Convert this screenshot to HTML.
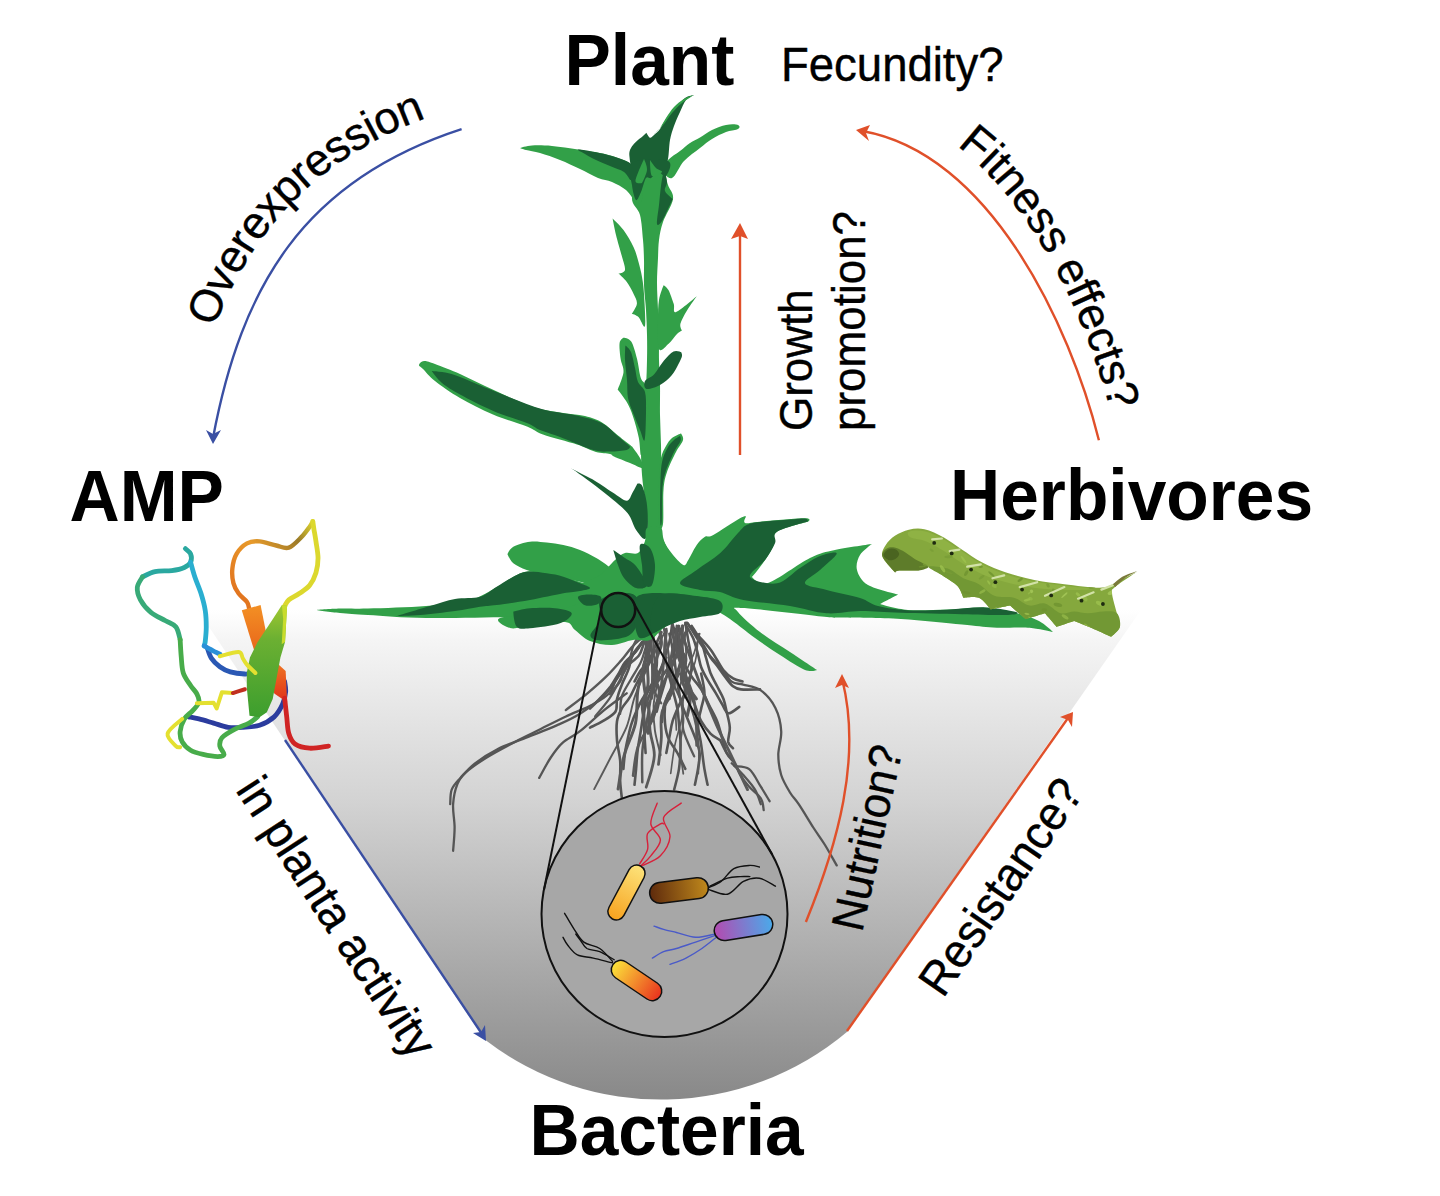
<!DOCTYPE html>
<html><head><meta charset="utf-8"><title>AMP Plant Bacteria Herbivores</title>
<style>
html,body{margin:0;padding:0;background:#fff;width:1440px;height:1196px;overflow:hidden}
svg{display:block;font-family:"Liberation Sans",sans-serif}
.b{font-weight:bold;font-size:69.5px;fill:#000}
.r{font-size:45.5px;fill:#000;stroke:#000;stroke-width:0.4px}
</style></head>
<body>
<svg width="1440" height="1196" viewBox="0 0 1440 1196">
<defs>
<linearGradient id="bowl" x1="0" y1="610" x2="0" y2="1098" gradientUnits="userSpaceOnUse">
<stop offset="0" stop-color="#ffffff"/>
<stop offset="0.0615" stop-color="#f5f5f5"/>
<stop offset="0.184" stop-color="#e8e8e8"/>
<stop offset="0.389" stop-color="#d3d3d3"/>
<stop offset="0.594" stop-color="#bababa"/>
<stop offset="0.799" stop-color="#a1a1a1"/>
<stop offset="1" stop-color="#898989"/>
</linearGradient>
<marker id="ab" viewBox="0 0 16 16" refX="8" refY="14" markerWidth="16" markerHeight="16" markerUnits="userSpaceOnUse" orient="auto-start-reverse"><path d="M0 0 L8 14 L16 0 L8 4 Z" fill="#3a4fa3"/></marker>
<path id="ovp" d="M 155.5 585.7 L 164.6 536.5 L 173.6 487.4 L 182.7 438.2 L 184.0 432.2 L 185.2 426.2 L 186.5 420.2 L 187.8 414.3 L 189.2 408.5 L 190.6 402.7 L 192.1 396.9 L 193.6 391.1 L 195.1 385.4 L 196.6 379.8 L 198.3 374.2 L 199.9 368.6 L 201.6 363.1 L 203.3 357.6 L 205.1 352.2 L 207.0 346.8 L 208.8 341.5 L 210.8 336.2 L 212.8 330.9 L 214.8 325.7 L 216.9 320.5 L 219.0 315.4 L 221.2 310.3 L 223.4 305.3 L 225.7 300.3 L 228.1 295.4 L 230.5 290.5 L 232.9 285.6 L 235.5 280.8 L 238.0 276.1 L 240.7 271.4 L 243.4 266.7 L 246.2 262.1 L 249.0 257.6 L 251.9 253.1 L 254.8 248.6 L 257.9 244.2 L 260.9 239.8 L 264.1 235.5 L 267.3 231.3 L 270.6 227.1 L 273.9 222.9 L 277.4 218.9 L 280.9 214.8 L 284.4 210.8 L 288.0 206.9 L 291.7 203.0 L 295.5 199.2 L 299.3 195.5 L 303.3 191.8 L 307.2 188.1 L 311.3 184.5 L 315.4 181.0 L 319.6 177.5 L 323.9 174.1 L 328.2 170.8 L 332.6 167.5 L 337.1 164.3 L 341.7 161.1 L 346.3 158.0 L 351.1 154.9 L 355.8 151.9 L 360.7 149.0 L 365.7 146.1 L 370.7 143.3 L 375.8 140.5 L 380.9 137.8 L 386.2 135.2 L 391.5 132.6 L 396.9 130.1 L 402.4 127.6 L 408.0 125.2 L 413.6 122.9 L 419.3 120.6 L 425.2 118.4 L 431.0 116.2 L 437.0 114.1 L 443.1 112.0 L 449.2 110.0 L 457.4 107.5 L 483.8 99.4 L 510.2 91.3 L 531.3 84.8"/>
<path id="fitp" d="M 861.7 100.5 L 867.5 101.8 L 873.2 103.2 L 878.8 104.7 L 884.4 106.4 L 889.9 108.2 L 895.3 110.2 L 900.6 112.3 L 905.9 114.6 L 911.1 117.0 L 916.2 119.5 L 921.3 122.1 L 926.2 124.9 L 931.1 127.8 L 935.9 130.7 L 940.7 133.8 L 945.3 137.0 L 949.9 140.3 L 954.4 143.7 L 958.9 147.2 L 963.3 150.8 L 967.6 154.4 L 971.8 158.2 L 975.9 162.0 L 980.0 165.9 L 984.1 169.9 L 988.0 174.0 L 991.9 178.1 L 995.7 182.3 L 999.5 186.6 L 1003.2 190.9 L 1006.8 195.3 L 1010.4 199.7 L 1013.9 204.2 L 1017.3 208.8 L 1020.7 213.4 L 1024.0 218.0 L 1027.3 222.7 L 1030.5 227.5 L 1033.7 232.3 L 1036.8 237.1 L 1039.8 241.9 L 1042.8 246.8 L 1045.7 251.8 L 1048.6 256.7 L 1051.4 261.7 L 1054.1 266.7 L 1056.8 271.7 L 1059.5 276.8 L 1062.0 281.9 L 1064.6 287.0 L 1067.1 292.1 L 1069.5 297.2 L 1071.9 302.3 L 1074.2 307.4 L 1076.4 312.6 L 1078.7 317.7 L 1080.8 322.9 L 1082.9 328.0 L 1085.0 333.2 L 1087.0 338.3 L 1089.0 343.4 L 1090.9 348.5 L 1092.7 353.6 L 1094.5 358.7 L 1096.3 363.8 L 1098.0 368.8 L 1099.6 373.9 L 1101.2 378.9 L 1102.8 383.9 L 1104.3 388.8 L 1105.7 393.7 L 1107.1 398.6 L 1108.4 403.5 L 1109.7 408.3 L 1111.0 413.1 L 1112.2 417.8 L 1113.3 422.5 L 1114.4 427.1 L 1115.5 431.7 L 1116.9 438.5 L 1122.8 465.5 L 1128.6 492.5 L 1133.2 514.0"/>
</defs>
<!-- bowl -->
<path d="M 191 600 L 1148 600 L 847.2 1031.7 A 289 289 0 0 1 484.7 1039.5 Z" fill="url(#bowl)"/>

<!-- ROOTS -->
<g id="roots"><path d="M 644.2 640.8 C 641.7 643.7 634.0 652.5 629.6 658.3 C 625.2 664.2 621.3 670.0 617.9 675.8 C 614.5 681.7 613.5 688.5 609.2 693.3 C 604.8 698.2 599.0 701.1 591.7 705.0 C 584.4 708.9 574.7 712.3 565.4 716.7 C 556.2 721.0 545.0 726.9 536.2 731.2 C 527.5 735.6 521.2 738.5 512.9 742.9 C 504.7 747.3 494.4 752.6 486.7 757.5 C 478.9 762.4 471.1 767.7 466.2 772.1 C 461.4 776.5 459.7 778.4 457.5 783.7 C 455.3 789.1 453.6 796.9 453.1 804.2 C 452.6 811.5 454.6 819.7 454.6 827.5 C 454.6 835.3 453.4 846.9 453.1 850.8" fill="none" stroke="#555" stroke-width="2.3" stroke-linecap="round" stroke-linejoin="round"/>
<path d="M 641.2 643.7 C 638.8 647.2 631.0 657.8 626.7 664.2 C 622.3 670.5 618.9 676.3 615.0 681.7 C 611.1 687.0 609.2 690.9 603.3 696.2 C 597.5 701.6 587.8 708.9 580.0 713.7 C 572.2 718.6 565.4 721.5 556.7 725.4 C 547.9 729.3 537.2 733.2 527.5 737.1 C 517.8 741.0 507.1 744.4 498.3 748.7 C 489.6 753.1 481.3 758.5 475.0 763.3 C 468.7 768.2 464.3 773.5 460.4 777.9 C 456.5 782.3 453.4 785.2 451.7 789.6 C 450.0 794.0 450.5 801.7 450.2 804.2" fill="none" stroke="#555" stroke-width="2.3" stroke-linecap="round" stroke-linejoin="round"/>
<path d="M 626.7 693.3 C 622.8 696.2 611.1 704.5 603.3 710.8 C 595.6 717.2 586.8 725.9 580.0 731.2 C 573.2 736.6 567.4 738.5 562.5 742.9 C 557.6 747.3 554.7 751.7 550.8 757.5 C 546.9 763.3 541.1 774.5 539.2 777.9" fill="none" stroke="#555" stroke-width="2.3" stroke-linecap="round" stroke-linejoin="round"/>
<path d="M 687.9 623.3 C 690.3 627.2 697.2 639.4 702.5 646.7 C 707.8 654.0 715.1 661.2 720.0 667.1 C 724.9 672.9 727.8 678.7 731.7 681.7 C 735.6 684.6 738.5 683.1 743.3 684.6 C 748.2 686.0 755.5 686.5 760.8 690.4 C 766.2 694.3 772.0 701.1 775.4 707.9 C 778.8 714.7 780.8 723.5 781.2 731.2 C 781.7 739.0 778.3 747.3 778.3 754.6 C 778.3 761.9 779.3 768.7 781.2 775.0 C 783.2 781.3 787.1 787.6 790.0 792.5 C 792.9 797.4 794.9 798.3 798.7 804.2 C 802.6 810.0 809.0 820.7 813.3 827.5 C 817.7 834.3 821.1 838.7 825.0 845.0 C 828.9 851.3 834.7 862.0 836.7 865.4" fill="none" stroke="#555" stroke-width="2.3" stroke-linecap="round" stroke-linejoin="round"/>
<path d="M 731.7 763.3 C 733.6 765.3 739.4 770.6 743.3 775.0 C 747.2 779.4 752.1 784.7 755.0 789.6 C 757.9 794.4 759.9 801.7 760.8 804.2" fill="none" stroke="#555" stroke-width="2.3" stroke-linecap="round" stroke-linejoin="round"/>
<path d="M 734.6 766.2 C 737.0 766.7 744.8 765.8 749.2 769.2 C 753.5 772.6 757.4 781.3 760.8 786.7 C 764.2 792.0 768.1 798.8 769.6 801.2" fill="none" stroke="#555" stroke-width="2.3" stroke-linecap="round" stroke-linejoin="round"/>
<path d="M 720.0 740.0 C 721.0 741.9 723.4 747.8 725.8 751.7 C 728.3 755.6 732.2 759.4 734.6 763.3 C 737.0 767.2 738.0 771.1 740.4 775.0 C 742.8 778.9 745.8 782.8 749.2 786.7 C 752.6 790.6 758.4 794.4 760.8 798.3 C 763.3 802.2 763.3 808.1 763.7 810.0" fill="none" stroke="#555" stroke-width="2.3" stroke-linecap="round" stroke-linejoin="round"/>
<path d="M 672.6 621.1 C 672.1 624.6 670.8 635.7 669.4 641.8 C 668.1 647.9 666.5 651.8 664.7 657.7 C 662.8 663.5 660.7 670.9 658.3 676.7 C 655.9 682.6 652.8 686.8 650.4 692.6 C 648.0 698.4 645.6 705.3 644.0 711.7 C 642.4 718.0 641.9 724.4 640.8 730.7 C 639.8 737.1 638.5 743.5 637.7 749.8 C 636.9 756.2 636.6 763.1 636.1 768.9 C 635.5 774.7 634.8 782.1 634.5 784.8" fill="none" stroke="#555" stroke-width="2.6" stroke-linecap="round" stroke-linejoin="round"/>
<path d="M 685.3 622.7 C 685.9 625.9 687.4 635.4 688.5 641.8 C 689.6 648.1 691.4 654.8 691.7 660.8 C 691.9 666.9 691.2 673.0 690.1 678.3 C 689.0 683.6 687.2 688.1 685.3 692.6 C 683.5 697.1 681.1 700.6 679.0 705.3 C 676.9 710.1 674.2 715.9 672.6 721.2 C 671.0 726.5 670.5 731.8 669.4 737.1 C 668.4 742.4 666.8 750.3 666.3 753.0" fill="none" stroke="#555" stroke-width="2.6" stroke-linecap="round" stroke-linejoin="round"/>
<path d="M 686.9 622.7 C 689.3 625.9 697.2 636.0 701.2 641.8 C 705.2 647.6 708.1 653.7 710.7 657.7 C 713.4 661.6 714.7 662.4 717.1 665.6 C 719.5 668.8 722.4 673.3 725.0 676.7 C 727.7 680.2 730.3 684.1 733.0 686.3 C 735.6 688.4 736.4 688.9 740.9 689.4 C 745.4 690.0 756.8 689.4 760.0 689.4" fill="none" stroke="#555" stroke-width="2.6" stroke-linecap="round" stroke-linejoin="round"/>
<path d="M 679.0 625.9 C 678.2 629.9 674.7 642.3 674.2 649.7 C 673.7 657.1 675.0 663.2 675.8 670.4 C 676.6 677.5 677.9 686.8 679.0 692.6 C 680.0 698.4 680.6 700.6 682.2 705.3 C 683.7 710.1 686.4 715.9 688.5 721.2 C 690.6 726.5 693.0 731.8 694.9 737.1 C 696.7 742.4 699.1 747.7 699.6 753.0 C 700.2 758.3 698.8 763.6 698.0 768.9 C 697.2 774.2 695.4 782.1 694.9 784.8" fill="none" stroke="#555" stroke-width="2.6" stroke-linecap="round" stroke-linejoin="round"/>
<path d="M 661.5 632.2 C 660.2 635.2 655.9 644.2 653.6 649.7 C 651.2 655.3 649.8 660.3 647.2 665.6 C 644.5 670.9 640.6 676.2 637.7 681.5 C 634.8 686.8 632.4 692.9 629.7 697.4 C 627.1 701.9 623.9 704.5 621.8 708.5 C 619.7 712.5 617.8 715.9 617.0 721.2 C 616.2 726.5 616.5 733.7 617.0 740.3 C 617.5 746.9 619.7 754.1 620.2 760.9 C 620.7 767.8 619.9 775.5 620.2 781.6 C 620.5 787.7 621.5 794.8 621.8 797.5" fill="none" stroke="#555" stroke-width="2.6" stroke-linecap="round" stroke-linejoin="round"/>
<path d="M 642.4 641.8 C 641.4 643.4 639.0 647.9 636.1 651.3 C 633.2 654.8 627.9 658.7 625.0 662.4 C 622.0 666.1 621.0 669.6 618.6 673.6 C 616.2 677.5 613.8 682.0 610.7 686.3 C 607.5 690.5 603.0 695.3 599.5 699.0 C 596.1 702.7 591.6 706.9 590.0 708.5" fill="none" stroke="#555" stroke-width="2.6" stroke-linecap="round" stroke-linejoin="round"/>
<path d="M 642.4 641.8 C 640.8 643.9 635.3 649.7 632.9 654.5 C 630.5 659.3 630.0 665.3 628.1 670.4 C 626.3 675.4 623.6 679.9 621.8 684.7 C 619.9 689.4 618.1 694.5 617.0 699.0 C 616.0 703.5 617.8 708.0 615.4 711.7 C 613.0 715.4 606.9 718.6 602.7 721.2 C 598.5 723.9 592.1 726.5 590.0 727.6" fill="none" stroke="#555" stroke-width="2.6" stroke-linecap="round" stroke-linejoin="round"/>
<path d="M 666.3 629.1 C 666.0 632.5 664.4 642.8 664.7 649.7 C 664.9 656.6 666.5 663.8 667.9 670.4 C 669.2 677.0 671.0 683.1 672.6 689.4 C 674.2 695.8 676.3 702.7 677.4 708.5 C 678.4 714.3 678.4 718.3 679.0 724.4 C 679.5 730.5 680.6 737.6 680.6 745.0 C 680.6 752.5 680.0 761.5 679.0 768.9 C 677.9 776.3 675.0 786.1 674.2 789.5" fill="none" stroke="#555" stroke-width="2.6" stroke-linecap="round" stroke-linejoin="round"/>
<path d="M 672.6 624.3 C 673.7 627.7 677.1 638.6 679.0 645.0 C 680.8 651.3 681.6 657.1 683.7 662.4 C 685.9 667.7 688.8 672.2 691.7 676.7 C 694.6 681.2 698.3 684.7 701.2 689.4 C 704.1 694.2 706.5 700.0 709.2 705.3 C 711.8 710.6 715.0 715.9 717.1 721.2 C 719.2 726.5 720.3 731.8 721.9 737.1 C 723.5 742.4 724.8 749.0 726.6 753.0 C 728.5 757.0 731.9 759.6 733.0 760.9" fill="none" stroke="#555" stroke-width="2.6" stroke-linecap="round" stroke-linejoin="round"/>
<path d="M 691.7 625.9 C 693.3 628.5 698.8 636.5 701.2 641.8 C 703.6 647.1 704.4 652.4 706.0 657.7 C 707.6 663.0 708.9 668.8 710.7 673.6 C 712.6 678.3 715.0 682.0 717.1 686.3 C 719.2 690.5 721.9 694.7 723.5 699.0 C 725.0 703.2 725.6 706.9 726.6 711.7 C 727.7 716.5 729.6 722.5 729.8 727.6 C 730.1 732.6 727.7 738.4 728.2 741.9 C 728.8 745.3 732.2 747.2 733.0 748.2" fill="none" stroke="#555" stroke-width="2.6" stroke-linecap="round" stroke-linejoin="round"/>
<path d="M 685.3 624.3 C 686.7 626.7 691.2 633.6 693.3 638.6 C 695.4 643.6 696.7 649.7 698.0 654.5 C 699.4 659.3 699.6 663.0 701.2 667.2 C 702.8 671.4 705.2 675.7 707.6 679.9 C 710.0 684.1 713.1 688.6 715.5 692.6 C 717.9 696.6 719.8 700.3 721.9 703.7 C 724.0 707.2 725.3 712.7 728.2 713.3 C 731.1 713.8 737.5 708.0 739.3 706.9" fill="none" stroke="#555" stroke-width="2.6" stroke-linecap="round" stroke-linejoin="round"/>
<path d="M 656.7 641.8 C 656.7 645.7 657.3 659.0 656.7 665.6 C 656.2 672.2 655.4 676.2 653.6 681.5 C 651.7 686.8 647.2 690.8 645.6 697.4 C 644.0 704.0 644.0 711.9 644.0 721.2 C 644.0 730.5 645.3 747.7 645.6 753.0" fill="none" stroke="#555" stroke-width="2.6" stroke-linecap="round" stroke-linejoin="round"/>
<path d="M 666.3 657.7 C 664.9 660.3 661.0 668.8 658.3 673.6 C 655.7 678.3 653.0 682.0 650.4 686.3 C 647.7 690.5 644.8 694.7 642.4 699.0 C 640.0 703.2 637.9 707.4 636.1 711.7 C 634.2 715.9 632.6 720.2 631.3 724.4 C 630.0 728.6 629.2 732.3 628.1 737.1 C 627.1 741.9 625.7 747.7 625.0 753.0 C 624.2 758.3 623.6 766.2 623.4 768.9" fill="none" stroke="#555" stroke-width="2.6" stroke-linecap="round" stroke-linejoin="round"/>
<path d="M 679.0 673.6 C 677.9 675.7 674.7 682.0 672.6 686.3 C 670.5 690.5 667.6 693.7 666.3 699.0 C 664.9 704.3 664.4 711.7 664.7 718.0 C 664.9 724.4 665.7 731.3 667.9 737.1 C 670.0 742.9 674.5 747.7 677.4 753.0 C 680.3 758.3 684.0 766.2 685.3 768.9" fill="none" stroke="#555" stroke-width="2.6" stroke-linecap="round" stroke-linejoin="round"/>
<path d="M 701.2 673.6 C 701.7 676.7 704.4 686.8 704.4 692.6 C 704.4 698.4 702.3 703.2 701.2 708.5 C 700.2 713.8 698.0 718.3 698.0 724.4 C 698.0 730.5 700.2 737.6 701.2 745.0 C 702.3 752.5 703.3 762.3 704.4 768.9 C 705.5 775.5 707.0 782.1 707.6 784.8" fill="none" stroke="#555" stroke-width="2.6" stroke-linecap="round" stroke-linejoin="round"/>
<path d="M 669.4 633.8 C 670.0 636.7 672.6 646.0 672.6 651.3 C 672.6 656.6 670.8 660.3 669.4 665.6 C 668.1 670.9 666.3 677.5 664.7 683.1 C 663.1 688.6 661.2 694.2 659.9 699.0 C 658.6 703.7 657.3 709.6 656.7 711.7" fill="none" stroke="#555" stroke-width="2.6" stroke-linecap="round" stroke-linejoin="round"/>
<path d="M 675.8 629.1 C 676.9 632.5 681.6 643.4 682.2 649.7 C 682.7 656.1 680.6 661.9 679.0 667.2 C 677.4 672.5 674.2 676.2 672.6 681.5 C 671.0 686.8 670.0 696.1 669.4 699.0" fill="none" stroke="#555" stroke-width="2.6" stroke-linecap="round" stroke-linejoin="round"/>
<path d="M 698.0 635.4 C 700.2 637.8 706.5 643.9 710.7 649.7 C 715.0 655.5 719.8 665.6 723.5 670.4 C 727.2 675.1 729.8 676.5 733.0 678.3 C 736.2 680.2 740.9 681.0 742.5 681.5" fill="none" stroke="#555" stroke-width="2.6" stroke-linecap="round" stroke-linejoin="round"/>
<path d="M 653.6 651.3 C 652.8 653.2 650.9 659.3 648.8 662.4 C 646.7 665.6 643.2 667.2 640.8 670.4 C 638.5 673.6 635.5 679.6 634.5 681.5" fill="none" stroke="#555" stroke-width="2.6" stroke-linecap="round" stroke-linejoin="round"/>
<path d="M 688.5 689.4 C 689.6 692.1 692.7 700.0 694.9 705.3 C 697.0 710.6 698.6 716.5 701.2 721.2 C 703.9 726.0 707.6 730.7 710.7 733.9 C 713.9 737.1 718.7 739.2 720.3 740.3" fill="none" stroke="#555" stroke-width="2.6" stroke-linecap="round" stroke-linejoin="round"/>
<path d="M 663.4 625.8 C 664.2 630.2 666.9 643.2 668.2 651.9 C 669.5 660.6 669.0 669.3 671.3 678.0 C 673.6 686.7 679.9 695.5 682.0 704.2 C 684.0 712.9 681.4 721.6 683.4 730.3 C 685.5 739.0 692.4 752.0 694.2 756.4" fill="none" stroke="#595959" stroke-width="2.3" stroke-linecap="round" stroke-linejoin="round"/>
<path d="M 646.6 625.1 C 647.2 628.7 650.7 639.5 650.2 646.7 C 649.6 653.9 644.3 661.2 643.4 668.4 C 642.5 675.6 643.8 682.8 644.7 690.0 C 645.7 697.2 648.5 704.4 649.1 711.7 C 649.6 718.9 648.3 729.7 648.1 733.3" fill="none" stroke="#595959" stroke-width="3.1" stroke-linecap="round" stroke-linejoin="round"/>
<path d="M 680.1 628.8 C 682.0 634.1 687.6 650.2 691.5 660.9 C 695.4 671.6 699.3 682.4 703.5 693.1 C 707.7 703.8 712.0 714.5 716.7 725.3 C 721.5 736.0 727.0 746.7 732.1 757.4 C 737.2 768.1 745.0 784.2 747.5 789.6" fill="none" stroke="#595959" stroke-width="2.9" stroke-linecap="round" stroke-linejoin="round"/>
<path d="M 653.9 631.0 C 653.9 635.1 653.5 647.5 654.0 655.8 C 654.5 664.1 657.2 672.4 657.1 680.7 C 657.0 688.9 654.0 697.2 653.6 705.5 C 653.2 713.8 653.7 722.1 654.9 730.3 C 656.1 738.6 659.7 751.0 660.7 755.2" fill="none" stroke="#595959" stroke-width="1.9" stroke-linecap="round" stroke-linejoin="round"/>
<path d="M 686.9 629.1 C 685.7 632.2 681.1 641.5 679.9 647.7 C 678.7 653.9 680.9 660.1 679.9 666.3 C 678.9 672.5 676.5 678.7 673.9 684.9 C 671.3 691.1 666.4 697.3 664.4 703.5 C 662.4 709.7 662.4 718.9 662.0 722.0" fill="none" stroke="#595959" stroke-width="2.5" stroke-linecap="round" stroke-linejoin="round"/>
<path d="M 676.7 634.5 C 675.7 638.8 671.3 651.8 670.9 660.5 C 670.5 669.1 675.7 677.8 674.2 686.5 C 672.7 695.1 664.1 703.8 662.0 712.4 C 659.8 721.1 661.9 729.8 661.3 738.4 C 660.8 747.1 659.0 760.1 658.5 764.4" fill="none" stroke="#595959" stroke-width="2.8" stroke-linecap="round" stroke-linejoin="round"/>
<path d="M 652.0 629.9 C 650.7 632.0 646.5 638.4 644.3 642.7 C 642.1 647.0 642.1 651.2 638.9 655.5 C 635.7 659.8 628.0 664.1 624.8 668.3 C 621.7 672.6 622.7 676.9 620.2 681.2 C 617.7 685.4 611.6 691.9 609.8 694.0" fill="none" stroke="#595959" stroke-width="2.6" stroke-linecap="round" stroke-linejoin="round"/>
<path d="M 680.3 629.5 C 679.4 634.3 678.5 649.0 675.3 658.7 C 672.1 668.5 664.8 678.2 661.1 688.0 C 657.5 697.7 657.4 707.4 653.6 717.2 C 649.8 726.9 641.5 736.7 638.1 746.4 C 634.7 756.2 633.9 770.8 633.1 775.7" fill="none" stroke="#595959" stroke-width="2.7" stroke-linecap="round" stroke-linejoin="round"/>
<path d="M 684.7 635.9 C 684.9 640.5 687.0 654.3 686.1 663.5 C 685.2 672.7 679.8 681.9 679.4 691.1 C 678.9 700.3 683.3 709.5 683.5 718.7 C 683.6 727.9 680.3 737.1 680.3 746.3 C 680.2 755.4 682.8 769.2 683.3 773.8" fill="none" stroke="#595959" stroke-width="1.8" stroke-linecap="round" stroke-linejoin="round"/>
<path d="M 645.9 633.2 C 646.0 635.6 645.6 642.5 646.4 647.2 C 647.3 651.9 648.9 656.5 650.9 661.2 C 653.0 665.9 658.3 670.5 658.8 675.2 C 659.3 679.9 653.5 684.5 653.9 689.2 C 654.4 693.9 660.0 700.9 661.2 703.2" fill="none" stroke="#595959" stroke-width="2.3" stroke-linecap="round" stroke-linejoin="round"/>
<path d="M 678.3 634.6 C 678.8 639.2 680.3 653.1 681.4 662.4 C 682.5 671.7 682.7 680.9 684.8 690.2 C 687.0 699.5 691.8 708.7 694.1 718.0 C 696.4 727.2 698.1 736.5 698.8 745.8 C 699.5 755.0 698.3 768.9 698.3 773.6" fill="none" stroke="#595959" stroke-width="1.8" stroke-linecap="round" stroke-linejoin="round"/>
<path d="M 653.6 626.8 C 652.5 629.7 648.9 638.4 646.8 644.2 C 644.7 650.0 643.7 655.8 641.1 661.6 C 638.5 667.4 634.3 673.2 631.1 679.0 C 627.9 684.8 623.7 690.6 621.8 696.4 C 620.0 702.2 620.4 710.9 620.1 713.8" fill="none" stroke="#595959" stroke-width="2.3" stroke-linecap="round" stroke-linejoin="round"/>
<path d="M 666.4 630.8 C 665.9 636.0 664.6 651.7 663.5 662.1 C 662.5 672.5 662.4 682.9 660.1 693.4 C 657.8 703.8 650.8 714.2 649.8 724.6 C 648.9 735.1 654.9 745.5 654.3 755.9 C 653.7 766.4 647.6 782.0 646.2 787.2" fill="none" stroke="#595959" stroke-width="2.8" stroke-linecap="round" stroke-linejoin="round"/>
<path d="M 699.7 633.6 C 698.8 636.8 696.3 646.4 694.1 652.9 C 691.8 659.3 687.6 665.7 686.4 672.2 C 685.3 678.6 688.7 685.0 687.1 691.4 C 685.5 697.9 678.5 704.3 676.7 710.7 C 674.9 717.2 676.5 726.8 676.4 730.0" fill="none" stroke="#595959" stroke-width="1.7" stroke-linecap="round" stroke-linejoin="round"/>
<path d="M 655.8 625.9 C 654.8 629.2 651.5 639.1 650.1 645.7 C 648.7 652.3 647.8 658.9 647.5 665.4 C 647.1 672.0 648.8 678.6 647.9 685.2 C 647.1 691.8 642.9 698.4 642.4 704.9 C 641.9 711.5 644.5 721.4 644.9 724.7" fill="none" stroke="#595959" stroke-width="3.0" stroke-linecap="round" stroke-linejoin="round"/>
<path d="M 682.5 625.8 C 682.4 628.8 681.9 637.8 682.0 643.8 C 682.0 649.8 683.1 655.8 683.1 661.8 C 683.0 667.8 680.5 673.8 681.6 679.8 C 682.7 685.7 688.9 691.7 689.8 697.7 C 690.8 703.7 687.7 712.7 687.3 715.7" fill="none" stroke="#595959" stroke-width="3.2" stroke-linecap="round" stroke-linejoin="round"/>
<path d="M 672.8 629.8 C 673.1 632.1 673.0 639.0 675.1 643.6 C 677.2 648.2 684.1 652.8 685.5 657.4 C 686.9 662.0 683.3 666.6 683.5 671.2 C 683.8 675.8 684.7 680.4 686.9 685.0 C 689.0 689.6 694.8 696.5 696.4 698.8" fill="none" stroke="#595959" stroke-width="3.1" stroke-linecap="round" stroke-linejoin="round"/>
<path d="M 676.9 625.8 C 676.7 629.7 674.7 641.7 676.1 649.7 C 677.5 657.7 682.2 665.6 685.1 673.6 C 688.0 681.6 691.6 689.6 693.5 697.5 C 695.4 705.5 695.8 713.5 696.3 721.5 C 696.8 729.5 696.6 741.4 696.6 745.4" fill="none" stroke="#595959" stroke-width="2.7" stroke-linecap="round" stroke-linejoin="round"/>
<path d="M 659.2 628.4 C 659.6 631.0 661.8 638.9 661.3 644.1 C 660.8 649.4 657.2 654.6 656.1 659.9 C 654.9 665.1 653.7 670.3 654.2 675.6 C 654.8 680.8 659.2 686.1 659.4 691.3 C 659.6 696.6 656.2 704.4 655.5 707.0" fill="none" stroke="#595959" stroke-width="3.2" stroke-linecap="round" stroke-linejoin="round"/>
<path d="M 698.3 633.7 C 697.8 638.3 697.5 652.3 695.2 661.6 C 692.9 671.0 686.7 680.3 684.5 689.6 C 682.3 698.9 683.5 708.2 681.9 717.6 C 680.3 726.9 676.6 736.2 674.8 745.5 C 672.9 754.8 671.4 768.8 670.7 773.5" fill="none" stroke="#595959" stroke-width="1.6" stroke-linecap="round" stroke-linejoin="round"/>
<path d="M 643.8 627.4 C 642.1 630.3 636.1 639.2 633.6 645.2 C 631.0 651.1 631.1 657.0 628.7 663.0 C 626.4 668.9 622.7 674.9 619.5 680.8 C 616.2 686.7 613.4 692.7 609.4 698.6 C 605.3 704.6 597.5 713.5 595.1 716.4" fill="none" stroke="#595959" stroke-width="2.2" stroke-linecap="round" stroke-linejoin="round"/>
<path d="M 656.6 626.7 C 653.0 629.5 641.3 637.8 635.5 643.4 C 629.6 648.9 626.4 654.5 621.5 660.1 C 616.6 665.6 611.8 671.2 606.1 676.7 C 600.4 682.3 594.1 687.8 587.4 693.4 C 580.7 699.0 569.4 707.3 565.8 710.1" fill="none" stroke="#595959" stroke-width="2.4" stroke-linecap="round" stroke-linejoin="round"/>
<path d="M 685.1 633.6 C 684.4 635.8 683.0 642.3 681.2 646.6 C 679.4 650.9 676.9 655.3 674.1 659.6 C 671.4 664.0 667.9 668.3 664.7 672.6 C 661.5 677.0 657.2 681.3 654.9 685.6 C 652.7 690.0 652.0 696.5 651.4 698.6" fill="none" stroke="#595959" stroke-width="2.9" stroke-linecap="round" stroke-linejoin="round"/>
<path d="M 663.9 633.6 C 661.4 638.8 653.8 654.3 649.0 664.7 C 644.1 675.1 638.8 685.4 635.1 695.8 C 631.3 706.2 630.7 716.5 626.6 726.9 C 622.5 737.3 615.8 747.6 610.4 758.0 C 605.0 768.4 596.9 783.9 594.2 789.1" fill="none" stroke="#595959" stroke-width="1.9" stroke-linecap="round" stroke-linejoin="round"/>
<path d="M 650.4 625.8 C 650.7 631.0 651.8 646.7 652.0 657.1 C 652.3 667.5 652.8 678.0 651.9 688.4 C 651.1 698.8 648.7 709.3 647.1 719.7 C 645.5 730.1 643.2 740.6 642.4 751.0 C 641.6 761.4 642.3 777.1 642.3 782.3" fill="none" stroke="#595959" stroke-width="2.5" stroke-linecap="round" stroke-linejoin="round"/>
<path d="M 650.6 624.2 C 649.8 629.7 647.8 646.2 645.6 657.1 C 643.5 668.1 639.6 679.1 637.9 690.1 C 636.2 701.1 637.8 712.1 635.5 723.1 C 633.1 734.1 626.8 745.1 624.0 756.1 C 621.1 767.0 619.1 783.5 618.1 789.0" fill="none" stroke="#595959" stroke-width="3.0" stroke-linecap="round" stroke-linejoin="round"/></g>
<!-- BIG CIRCLE -->
<circle cx="664.5" cy="914" r="123" fill="#a7a7a7" stroke="#111" stroke-width="2"/>
<defs>
<linearGradient id="g1" x1="0" y1="0" x2="1" y2="0"><stop offset="0" stop-color="#f7a21f"/><stop offset="1" stop-color="#fde37a"/></linearGradient>
<linearGradient id="g2" x1="0" y1="0" x2="1" y2="0"><stop offset="0" stop-color="#5e2a0c"/><stop offset="1" stop-color="#c0891c"/></linearGradient>
<linearGradient id="g3" x1="0" y1="0" x2="1" y2="0"><stop offset="0" stop-color="#b44ab0"/><stop offset="1" stop-color="#4aaaea"/></linearGradient>
<linearGradient id="g4" x1="0" y1="0" x2="1" y2="0"><stop offset="0" stop-color="#fbe33a"/><stop offset="1" stop-color="#e9321e"/></linearGradient>
</defs>
<path d="M 641.3 865.4 C 642.8 863.8 647.6 860.1 650.8 855.8 C 654.0 851.6 660.4 845.2 660.4 839.9 C 660.4 834.5 651.4 830.0 650.8 823.9 C 650.3 817.8 656.2 806.6 657.2 803.1" fill="none" stroke="#d8203a" stroke-width="1.4" stroke-linecap="round"/>
<path d="M 642.8 865.4 C 645.8 863.8 655.9 860.6 660.4 855.8 C 664.9 851.0 669.5 843.1 670.0 836.7 C 670.5 830.3 661.8 823.1 663.6 817.5 C 665.5 811.9 678.3 805.5 681.2 803.1" fill="none" stroke="#d8203a" stroke-width="1.4" stroke-linecap="round"/>
<path d="M 639.7 863.8 C 641.0 861.4 646.3 854.5 647.6 849.4 C 649.0 844.4 645.5 837.7 647.6 833.5 C 649.8 829.2 657.8 825.5 660.4 823.9 C 663.1 822.3 663.1 823.9 663.6 823.9" fill="none" stroke="#d8203a" stroke-width="1.4" stroke-linecap="round"/>
<path d="M 708.3 887.8 C 710.5 886.7 716.9 884.6 721.1 881.4 C 725.4 878.2 729.1 871.3 733.9 868.6 C 738.7 866.0 745.6 865.7 749.9 865.4 C 754.1 865.2 757.9 866.7 759.4 867.0" fill="none" stroke="#111" stroke-width="1.4" stroke-linecap="round"/>
<path d="M 708.3 889.4 C 711.5 890.2 721.6 895.5 727.5 894.2 C 733.4 892.8 738.2 884.1 743.5 881.4 C 748.8 878.7 754.1 877.4 759.4 878.2 C 764.8 879.0 772.8 884.9 775.4 886.2" fill="none" stroke="#111" stroke-width="1.4" stroke-linecap="round"/>
<path d="M 709.9 886.2 C 712.9 884.9 722.4 879.8 727.5 878.2 C 732.6 876.6 736.6 876.9 740.3 876.6 C 744.0 876.3 748.3 876.6 749.9 876.6" fill="none" stroke="#111" stroke-width="1.4" stroke-linecap="round"/>
<path d="M 714.7 934.1 C 711.5 934.6 701.9 937.6 695.6 937.3 C 689.2 937.0 681.7 933.8 676.4 932.5 C 671.1 931.2 667.3 930.4 663.6 929.3 C 659.9 928.2 655.6 926.6 654.0 926.1" fill="none" stroke="#4a5ac8" stroke-width="1.4" stroke-linecap="round"/>
<path d="M 714.7 935.7 C 711.5 936.8 701.9 940.0 695.6 942.1 C 689.2 944.2 681.7 946.9 676.4 948.5 C 671.1 950.1 667.6 950.1 663.6 951.7 C 659.6 953.3 654.3 957.0 652.4 958.1" fill="none" stroke="#4a5ac8" stroke-width="1.4" stroke-linecap="round"/>
<path d="M 716.3 937.3 C 713.9 939.2 707.0 945.0 701.9 948.5 C 696.9 951.9 691.3 955.4 686.0 958.1 C 680.7 960.7 672.7 963.4 670.0 964.4" fill="none" stroke="#4a5ac8" stroke-width="1.4" stroke-linecap="round"/>
<path d="M 612.5 961.3 C 610.4 959.1 604.5 951.7 599.7 948.5 C 594.9 945.3 588.0 945.3 583.8 942.1 C 579.5 938.9 577.4 934.1 574.2 929.3 C 571.0 924.5 566.2 916.0 564.6 913.3" fill="none" stroke="#111" stroke-width="1.4" stroke-linecap="round"/>
<path d="M 612.5 962.8 C 609.3 962.1 599.2 959.4 593.3 958.1 C 587.5 956.7 581.6 957.0 577.4 954.9 C 573.1 952.7 570.2 948.2 567.8 945.3 C 565.4 942.4 563.8 938.6 563.0 937.3" fill="none" stroke="#111" stroke-width="1.4" stroke-linecap="round"/>
<path d="M 614.1 959.7 C 611.7 958.3 604.2 953.5 599.7 951.7 C 595.2 949.8 590.1 950.3 586.9 948.5 C 583.8 946.6 582.4 942.9 580.6 940.5 C 578.7 938.1 576.6 935.2 575.8 934.1" fill="none" stroke="#111" stroke-width="1.4" stroke-linecap="round"/>
<rect x="596.5" y="884.0" width="60.0" height="17.0" rx="8.5" fill="url(#g1)" stroke="#111" stroke-width="1.5" transform="rotate(-62.0 626.5 892.5)"/>
<rect x="649.5" y="880.0" width="59.0" height="21.0" rx="10.5" fill="url(#g2)" stroke="#111" stroke-width="1.5" transform="rotate(-7.0 679.0 890.5)"/>
<rect x="714.0" y="917.5" width="59.0" height="20.0" rx="10.0" fill="url(#g3)" stroke="#111" stroke-width="1.5" transform="rotate(-9.0 743.5 927.5)"/>
<rect x="608.0" y="971.0" width="57.0" height="19.0" rx="9.5" fill="url(#g4)" stroke="#111" stroke-width="1.5" transform="rotate(34.0 636.5 980.5)"/>
<!-- PLANT -->
<g id="plant"><path d="M 632.0 197.0 C 631.2 205.3 638.2 207.8 640.0 215.0 C 641.8 222.2 642.3 232.5 643.0 240.0 C 643.7 247.5 643.8 252.5 644.0 260.0 C 644.2 267.5 643.7 276.7 644.0 285.0 C 644.3 293.3 645.5 301.7 646.0 310.0 C 646.5 318.3 646.8 326.7 647.0 335.0 C 647.2 343.3 647.2 351.7 647.0 360.0 C 646.8 368.3 646.7 375.8 646.0 385.0 C 645.3 394.2 643.8 405.0 643.0 415.0 C 642.2 425.0 641.2 435.0 641.0 445.0 C 640.8 455.0 641.3 465.8 642.0 475.0 C 642.7 484.2 644.2 493.3 645.0 500.0 C 645.8 506.7 646.8 508.8 647.0 515.0 C 647.2 521.2 647.7 530.3 646.5 537.0 C 645.3 543.7 643.6 547.8 640.0 555.0 C 636.4 562.2 617.5 575.8 625.0 580.0 C 632.5 584.2 676.7 583.3 685.0 580.0 C 693.3 576.7 677.8 565.2 675.0 560.0 C 672.2 554.8 670.0 552.8 668.0 549.0 C 666.0 545.2 664.3 542.7 663.0 537.0 C 661.7 531.3 660.5 521.2 660.0 515.0 C 659.5 508.8 659.8 506.7 660.0 500.0 C 660.2 493.3 660.8 484.2 661.0 475.0 C 661.2 465.8 661.2 455.0 661.0 445.0 C 660.8 435.0 660.2 425.0 660.0 415.0 C 659.8 405.0 660.2 394.2 660.0 385.0 C 659.8 375.8 659.2 368.5 659.0 360.0 C 658.8 351.5 659.2 342.3 659.0 334.0 C 658.8 325.7 658.3 318.5 658.0 310.0 C 657.7 301.5 657.0 291.7 657.0 283.0 C 657.0 274.3 657.7 265.2 658.0 258.0 C 658.3 250.8 658.2 246.0 659.0 240.0 C 659.8 234.0 660.7 228.8 663.0 222.0 C 665.3 215.2 672.2 205.2 673.0 199.0 C 673.8 192.8 669.8 190.2 668.0 185.0 C 666.2 179.8 665.8 171.3 662.0 168.0 C 658.2 164.7 650.0 160.2 645.0 165.0 C 640.0 169.8 632.8 188.7 632.0 197.0 Z" fill="#32a048"/>
<path d="M 520.0 148.0 C 520.0 148.0 526.7 145.8 532.0 145.5 C 537.3 145.2 544.3 145.3 552.0 146.0 C 559.7 146.7 570.0 148.3 578.0 149.5 C 586.0 150.7 593.3 151.6 600.0 153.0 C 606.7 154.4 612.7 156.0 618.0 158.0 C 623.3 160.0 628.3 161.3 632.0 165.0 C 635.7 168.7 638.3 174.2 640.0 180.0 C 641.7 185.8 642.7 196.3 642.0 200.0 C 641.3 203.7 638.7 203.7 636.0 202.0 C 633.3 200.3 630.0 193.3 626.0 190.0 C 622.0 186.7 616.7 184.0 612.0 182.0 C 607.3 180.0 603.3 180.2 598.0 178.0 C 592.7 175.8 586.3 172.0 580.0 169.0 C 573.7 166.0 566.7 162.7 560.0 160.0 C 553.3 157.3 545.7 154.7 540.0 153.0 C 534.3 151.3 529.3 150.8 526.0 150.0 C 522.7 149.2 520.0 148.0 520.0 148.0 Z" fill="#32a048"/>
<path d="M 578.0 149.5 C 579.7 149.2 589.3 150.9 595.0 152.0 C 600.7 153.1 606.8 154.5 612.0 156.0 C 617.2 157.5 622.7 159.3 626.0 161.0 C 629.3 162.7 631.2 162.8 632.0 166.0 C 632.8 169.2 632.3 179.0 631.0 180.0 C 629.7 181.0 627.5 174.3 624.0 172.0 C 620.5 169.7 614.7 168.0 610.0 166.0 C 605.3 164.0 600.2 162.0 596.0 160.0 C 591.8 158.0 588.0 155.8 585.0 154.0 C 582.0 152.2 576.3 149.8 578.0 149.5 Z" fill="#1a6034"/>
<path d="M 662.0 170.0 C 661.3 167.0 665.0 163.2 668.0 160.0 C 671.0 156.8 676.3 153.8 680.0 151.0 C 683.7 148.2 686.7 145.2 690.0 143.0 C 693.3 140.8 696.3 139.7 700.0 137.5 C 703.7 135.3 707.7 132.1 712.0 130.0 C 716.3 127.9 722.0 125.9 726.0 125.0 C 730.0 124.1 733.8 124.2 736.0 124.5 C 738.2 124.8 739.3 125.7 739.5 126.5 C 739.7 127.3 739.2 128.6 737.0 129.5 C 734.8 130.4 730.2 130.4 726.0 132.0 C 721.8 133.6 716.3 136.3 712.0 139.0 C 707.7 141.7 704.7 144.3 700.0 148.0 C 695.3 151.7 688.7 156.0 684.0 161.0 C 679.3 166.0 675.7 176.5 672.0 178.0 C 668.3 179.5 662.7 173.0 662.0 170.0 Z" fill="#32a048"/>
<path d="M 694.0 95.0 C 694.0 95.0 688.3 97.2 686.0 100.0 C 683.7 102.8 682.0 107.7 680.0 112.0 C 678.0 116.3 675.7 121.3 674.0 126.0 C 672.3 130.7 671.0 134.5 670.0 140.0 C 669.0 145.5 669.0 154.8 668.0 159.0 C 667.0 163.2 666.7 163.5 664.0 165.0 C 661.3 166.5 656.0 166.3 652.0 168.0 C 648.0 169.7 643.3 175.0 640.0 175.0 C 636.7 175.0 633.8 171.0 632.0 168.0 C 630.2 165.0 629.8 160.0 629.5 157.0 C 629.2 154.0 629.1 152.4 630.0 150.0 C 630.9 147.6 632.8 145.0 635.0 142.7 C 637.2 140.4 641.1 137.7 643.0 136.0 C 644.9 134.3 646.4 132.7 646.4 132.7 C 646.4 132.7 648.7 137.3 650.0 137.7 C 651.3 138.1 652.3 136.4 654.0 135.0 C 655.7 133.6 658.0 131.7 660.0 129.0 C 662.0 126.3 663.5 122.5 666.0 119.0 C 668.5 115.5 671.8 111.5 675.0 108.0 C 678.2 104.5 681.8 100.2 685.0 98.0 C 688.2 95.8 694.0 95.0 694.0 95.0 Z" fill="#1a6034"/>
<path d="M 694.0 95.0 C 694.0 95.0 687.3 97.0 684.0 99.0 C 680.7 101.0 677.0 103.8 674.0 107.0 C 671.0 110.2 668.3 114.5 666.0 118.0 C 663.7 121.5 662.0 125.3 660.0 128.0 C 658.0 130.7 654.7 133.3 654.0 134.0 C 653.3 134.7 654.3 133.7 656.0 132.0 C 657.7 130.3 661.3 127.2 664.0 124.0 C 666.7 120.8 669.0 116.5 672.0 113.0 C 675.0 109.5 678.3 106.0 682.0 103.0 C 685.7 100.0 694.0 95.0 694.0 95.0 Z" fill="#32a048"/>
<path d="M 632.0 163.0 C 638.0 159.0 662.3 158.8 668.0 161.0 C 673.7 163.2 667.7 174.2 666.0 176.0 C 664.3 177.8 660.5 171.7 658.0 172.0 C 655.5 172.3 653.0 177.0 651.0 178.0 C 649.0 179.0 647.7 175.7 646.0 178.0 C 644.3 180.3 642.7 188.3 641.0 192.0 C 639.3 195.7 637.5 201.2 636.0 200.0 C 634.5 198.8 632.7 191.2 632.0 185.0 C 631.3 178.8 626.0 167.0 632.0 163.0 Z" fill="#1a6034"/>
<path d="M 644.0 159.0 C 644.0 159.0 647.3 166.0 647.0 170.0 C 646.7 174.0 642.0 183.0 642.0 183.0 C 642.0 183.0 635.2 184.5 635.5 180.5 C 635.8 176.5 644.0 159.0 644.0 159.0 Z" fill="#32a048"/>
<path d="M 650.0 160.0 C 650.0 160.0 654.0 166.0 656.0 168.0 C 658.0 170.0 662.7 170.7 662.0 172.0 C 661.3 173.3 654.0 178.0 652.0 176.0 C 650.0 174.0 650.0 160.0 650.0 160.0 Z" fill="#32a048"/>
<path d="M 664.0 172.0 C 665.0 171.3 666.8 178.8 667.0 182.0 C 667.2 185.2 664.0 188.2 665.0 191.0 C 666.0 193.8 672.8 199.0 672.8 199.0 C 672.8 199.0 669.8 205.3 668.0 209.0 C 666.2 212.7 663.8 218.5 662.0 221.0 C 660.2 223.5 657.5 226.7 657.0 224.0 C 656.5 221.3 658.3 211.3 659.0 205.0 C 659.7 198.7 660.2 191.5 661.0 186.0 C 661.8 180.5 663.0 172.7 664.0 172.0 Z" fill="#1a6034"/>
<path d="M 612.6 218.4 C 612.6 218.4 620.0 225.2 623.5 230.0 C 627.0 234.8 631.0 241.7 633.5 247.0 C 636.0 252.3 637.1 257.0 638.5 262.0 C 639.9 267.0 641.1 271.7 642.0 277.0 C 642.9 282.3 643.5 285.8 644.0 294.0 C 644.5 302.2 645.9 322.2 645.0 326.0 C 644.1 329.8 640.7 319.1 638.5 317.0 C 636.3 314.9 631.8 313.7 631.8 313.7 C 631.8 313.7 636.6 307.0 636.9 303.7 C 637.2 300.4 635.2 297.3 633.5 293.7 C 631.8 290.1 629.3 285.4 626.8 282.0 C 624.3 278.6 618.5 273.6 618.5 273.6 C 618.5 273.6 624.5 272.9 625.0 270.0 C 625.5 267.1 623.3 261.8 621.8 256.0 C 620.3 250.2 617.5 241.3 616.0 235.0 C 614.5 228.7 612.6 218.4 612.6 218.4 Z" fill="#32a048"/>
<path d="M 663.6 285.3 C 663.6 285.3 666.9 287.2 668.6 290.3 C 670.3 293.4 672.4 300.1 673.7 303.7 C 675.0 307.3 672.3 313.3 676.2 312.0 C 680.1 310.7 697.0 296.0 697.0 296.0 C 697.0 296.0 689.8 305.8 687.0 310.4 C 684.2 315.0 681.2 320.4 680.4 323.8 C 679.6 327.2 682.0 330.5 682.0 330.5 C 682.0 330.5 679.2 331.8 677.0 334.0 C 674.8 336.2 671.6 341.3 668.6 343.8 C 665.6 346.3 660.8 353.0 659.0 349.0 C 657.2 345.0 658.0 328.2 658.0 320.0 C 658.0 311.8 658.1 305.8 659.0 300.0 C 659.9 294.2 663.6 285.3 663.6 285.3 Z" fill="#32a048"/>
<path d="M 623.5 337.7 C 623.5 337.7 629.0 338.0 631.2 341.5 C 633.5 345.0 635.4 352.7 637.0 358.8 C 638.6 364.9 639.2 373.2 640.8 378.0 C 642.4 382.8 645.3 381.5 646.5 387.7 C 647.7 393.9 648.6 406.3 648.0 415.0 C 647.4 423.7 644.2 433.3 643.0 440.0 C 641.8 446.7 641.5 455.4 640.8 455.0 C 640.1 454.6 640.1 444.1 638.8 437.7 C 637.5 431.3 634.9 422.3 633.0 416.5 C 631.1 410.7 629.8 407.5 627.3 403.0 C 624.8 398.5 617.7 389.6 617.7 389.6 C 617.7 389.6 623.0 377.4 623.5 372.3 C 624.0 367.2 621.2 363.7 620.6 358.8 C 620.0 353.9 619.1 346.5 619.6 343.0 C 620.1 339.5 623.5 337.7 623.5 337.7 Z" fill="#32a048"/>
<path d="M 625.4 345.4 C 625.4 345.4 629.4 348.2 631.0 352.0 C 632.6 355.8 633.8 363.0 635.0 368.0 C 636.2 373.0 636.3 378.0 638.0 382.0 C 639.7 386.0 643.7 387.0 645.0 392.0 C 646.3 397.0 646.1 404.0 646.0 412.0 C 645.9 420.0 645.6 437.0 644.6 440.0 C 643.6 443.0 641.9 434.6 640.0 430.0 C 638.1 425.4 635.0 418.0 633.0 412.7 C 631.0 407.4 629.0 403.4 628.0 398.0 C 627.0 392.6 627.5 386.3 627.0 380.0 C 626.5 373.7 625.3 365.8 625.0 360.0 C 624.7 354.2 625.4 345.4 625.4 345.4 Z" fill="#1a6034"/>
<path d="M 681.0 352.0 C 681.0 352.0 676.4 350.0 673.5 351.5 C 670.6 353.0 667.0 357.0 663.8 360.8 C 660.6 364.6 657.3 370.8 654.2 374.2 C 651.1 377.6 646.3 378.5 645.0 381.0 C 643.7 383.5 644.0 388.3 646.5 389.0 C 649.0 389.7 655.8 387.2 660.0 385.0 C 664.2 382.8 668.4 379.0 671.5 375.5 C 674.6 372.0 676.8 367.2 678.5 364.0 C 680.2 360.8 681.6 358.0 682.0 356.0 C 682.4 354.0 681.0 352.0 681.0 352.0 Z" fill="#1a6034"/>
<path d="M 424.0 361.0 C 426.7 360.8 429.0 361.8 435.0 364.0 C 441.0 366.2 451.7 370.3 460.0 374.0 C 468.3 377.7 476.7 382.1 485.0 386.0 C 493.3 389.9 501.7 393.9 510.0 397.5 C 518.3 401.1 526.7 405.0 535.0 407.5 C 543.3 410.0 551.7 411.1 560.0 412.5 C 568.3 413.9 578.0 414.3 585.0 416.0 C 592.0 417.7 596.5 419.2 602.0 422.5 C 607.5 425.8 613.0 431.5 618.0 435.5 C 623.0 439.5 632.0 446.5 632.0 446.5 C 632.0 446.5 638.2 454.4 640.0 458.0 C 641.8 461.6 644.7 467.2 643.0 468.0 C 641.3 468.8 634.8 464.9 630.0 463.0 C 625.2 461.1 617.3 458.0 614.0 456.5 C 610.7 455.0 613.0 454.8 610.0 454.0 C 607.0 453.2 601.5 453.6 596.0 452.0 C 590.5 450.4 585.8 447.4 577.0 444.5 C 568.2 441.6 551.3 437.5 543.0 434.5 C 534.7 431.5 535.3 429.8 527.0 426.5 C 518.7 423.2 504.2 419.2 493.0 414.5 C 481.8 409.8 469.7 403.6 460.0 398.0 C 450.3 392.4 441.2 385.8 435.0 381.0 C 428.8 376.2 425.7 371.7 423.0 369.0 C 420.3 366.3 418.8 366.3 419.0 365.0 C 419.2 363.7 421.3 361.2 424.0 361.0 Z" fill="#32a048"/>
<path d="M 431.7 371.0 C 431.7 371.0 444.2 371.8 451.7 374.0 C 459.2 376.2 467.0 380.1 476.7 384.0 C 486.4 387.9 498.9 393.2 510.0 397.5 C 521.1 401.8 532.2 406.5 543.3 409.5 C 554.4 412.5 567.0 413.2 576.7 415.5 C 586.4 417.8 594.8 419.5 601.7 423.0 C 608.6 426.5 613.6 432.6 618.3 436.5 C 623.0 440.4 630.0 446.5 630.0 446.5 C 630.0 446.5 630.0 449.2 626.7 450.0 C 623.4 450.8 615.6 451.5 610.0 451.5 C 604.4 451.5 601.6 452.4 593.3 450.0 C 585.0 447.6 568.9 440.3 560.0 437.0 C 551.1 433.7 545.5 432.3 540.0 430.0 C 534.5 427.7 534.5 426.2 526.7 423.0 C 518.9 419.8 504.4 415.8 493.3 411.0 C 482.2 406.2 468.6 399.2 460.0 394.5 C 451.4 389.8 446.7 386.9 442.0 383.0 C 437.3 379.1 431.7 371.0 431.7 371.0 Z" fill="#1a6034"/>
<path d="M 681.0 433.5 C 681.0 433.5 683.8 436.9 683.0 440.0 C 682.2 443.1 678.7 446.7 676.0 452.0 C 673.3 457.3 669.1 465.7 667.0 472.0 C 664.9 478.3 664.2 481.3 663.5 490.0 C 662.8 498.7 663.8 518.3 663.0 524.0 C 662.2 529.7 659.7 531.3 659.0 524.0 C 658.3 516.7 658.7 491.0 659.0 480.0 C 659.3 469.0 659.8 463.7 661.0 458.0 C 662.2 452.3 664.2 449.3 666.0 446.0 C 667.8 442.7 669.5 440.1 672.0 438.0 C 674.5 435.9 681.0 433.5 681.0 433.5 Z" fill="#32a048"/>
<path d="M 680.0 436.0 C 680.0 436.0 681.5 438.3 680.5 441.0 C 679.5 443.7 676.5 446.8 674.0 452.0 C 671.5 457.2 667.5 465.7 665.5 472.0 C 663.5 478.3 662.9 481.8 662.3 490.0 C 661.7 498.2 662.1 515.8 661.8 521.0 C 661.4 526.2 660.4 527.8 660.2 521.0 C 660.0 514.2 660.1 490.2 660.5 480.0 C 660.9 469.8 661.2 465.5 662.5 460.0 C 663.8 454.5 666.1 450.3 668.0 447.0 C 669.9 443.7 672.0 441.8 674.0 440.0 C 676.0 438.2 680.0 436.0 680.0 436.0 Z" fill="#1a6034"/>
<path d="M 571.1 468.6 C 571.1 468.6 588.2 476.9 595.1 480.9 C 602.0 484.9 607.4 489.3 612.7 492.6 C 618.0 495.9 623.4 500.8 626.7 500.8 C 630.0 500.8 630.8 495.4 632.6 492.6 C 634.4 489.8 637.3 483.8 637.3 483.8 C 637.3 483.8 640.5 482.6 642.0 485.6 C 643.5 488.6 645.6 495.4 646.6 502.0 C 647.6 508.6 648.1 519.2 647.8 525.4 C 647.5 531.6 647.0 538.2 645.0 539.0 C 643.0 539.8 639.0 534.2 636.1 530.0 C 633.2 525.8 631.8 518.7 627.9 513.6 C 624.0 508.5 618.2 504.3 612.7 499.6 C 607.2 494.9 601.0 490.0 595.1 485.5 C 589.2 481.0 581.6 475.5 577.6 472.7 C 573.6 469.9 571.1 468.6 571.1 468.6 Z" fill="#1a6034"/>
<path d="M 315.0 610.0 C 315.0 610.0 331.2 608.8 340.0 608.5 C 348.8 608.2 353.7 608.9 368.0 608.5 C 382.3 608.1 409.0 607.4 426.0 606.0 C 443.0 604.6 458.2 603.2 470.0 600.0 C 481.8 596.8 489.8 590.8 497.0 587.0 C 504.2 583.2 508.0 579.6 513.0 577.0 C 518.0 574.4 521.3 572.2 527.0 571.5 C 532.7 570.8 538.2 571.2 547.0 573.0 C 555.8 574.8 571.2 578.8 580.0 582.0 C 588.8 585.2 596.7 586.5 600.0 592.0 C 603.3 597.5 604.7 611.2 600.0 615.0 C 595.3 618.8 586.3 614.7 572.0 615.0 C 557.7 615.3 538.3 616.5 514.0 617.0 C 489.7 617.5 450.3 618.3 426.0 618.0 C 401.7 617.7 382.3 615.8 368.0 615.0 C 353.7 614.2 348.8 613.8 340.0 613.0 C 331.2 612.2 315.0 610.0 315.0 610.0 Z" fill="#32a048"/>
<path d="M 507.5 554.2 C 507.5 554.2 509.5 548.8 513.3 546.7 C 517.0 544.6 524.4 542.4 530.0 541.7 C 535.6 541.0 541.2 542.0 546.7 542.5 C 552.2 543.0 557.8 543.8 563.3 545.0 C 568.8 546.2 574.4 547.8 580.0 550.0 C 585.6 552.2 591.2 555.0 596.7 558.3 C 602.2 561.6 609.1 566.7 613.3 570.0 C 617.5 573.3 620.6 575.8 621.7 578.3 C 622.8 580.8 623.6 583.7 620.0 585.0 C 616.4 586.3 606.7 586.5 600.0 586.0 C 593.3 585.5 586.1 583.0 580.0 581.7 C 573.9 580.4 568.8 579.4 563.3 578.3 C 557.8 577.2 552.8 576.4 546.7 575.0 C 540.6 573.6 532.3 572.0 526.7 570.0 C 521.1 568.0 516.5 565.9 513.3 563.3 C 510.1 560.7 507.5 554.2 507.5 554.2 Z" fill="#32a048"/>
<path d="M 565.0 592.0 C 565.0 589.0 579.2 584.8 585.0 582.0 C 590.8 579.2 595.0 578.7 600.0 575.0 C 605.0 571.3 610.8 563.7 615.0 560.0 C 619.2 556.3 621.2 554.2 625.0 553.0 C 628.8 551.8 634.7 555.0 638.0 553.0 C 641.3 551.0 643.5 545.2 645.0 541.0 C 646.5 536.8 644.3 530.2 647.0 528.0 C 649.7 525.8 658.3 526.0 661.0 528.0 C 663.7 530.0 661.5 535.8 663.3 540.0 C 665.1 544.2 668.4 549.1 671.7 553.3 C 675.0 557.5 680.5 563.9 683.3 565.0 C 686.1 566.1 686.1 563.3 688.3 560.0 C 690.5 556.7 693.9 548.9 696.7 545.0 C 699.5 541.1 702.2 538.4 705.0 536.7 C 707.8 535.0 707.5 538.1 713.3 535.0 C 719.1 531.9 734.5 521.3 740.0 518.3 C 745.5 515.2 746.0 516.7 746.0 516.7 C 746.0 516.7 742.7 522.2 745.0 523.0 C 747.3 523.8 750.0 522.5 760.0 521.7 C 770.0 520.9 797.0 518.3 805.0 518.3 C 813.0 518.3 808.0 521.7 808.0 521.7 C 808.0 521.7 782.8 527.5 777.0 531.7 C 771.2 535.9 775.3 541.5 773.0 546.7 C 770.7 551.9 766.5 558.0 763.0 563.0 C 759.5 568.0 752.0 577.0 752.0 577.0 C 752.0 577.0 758.3 586.2 768.0 583.0 C 777.7 579.8 798.8 563.5 810.0 558.0 C 821.2 552.5 824.7 552.3 835.0 550.0 C 845.3 547.7 872.0 544.0 872.0 544.0 C 872.0 544.0 862.5 550.7 860.0 555.0 C 857.5 559.3 855.7 565.0 857.0 570.0 C 858.3 575.0 861.2 580.9 868.0 585.0 C 874.8 589.1 898.0 594.4 898.0 594.4 C 898.0 594.4 880.0 604.0 880.0 604.0 C 880.0 604.0 896.8 609.1 908.0 610.0 C 919.2 610.9 934.2 609.9 947.0 609.5 C 959.8 609.1 973.5 606.9 985.0 607.5 C 996.5 608.1 1007.0 610.8 1016.0 613.0 C 1025.0 615.2 1032.8 617.8 1039.0 621.0 C 1045.2 624.2 1053.0 632.0 1053.0 632.0 C 1053.0 632.0 1043.0 629.8 1038.0 629.0 C 1033.0 628.2 1030.5 627.8 1023.0 627.5 C 1015.5 627.2 1003.2 628.0 993.0 627.5 C 982.8 627.0 977.3 625.9 962.0 624.5 C 946.7 623.1 921.3 620.2 901.0 619.0 C 880.7 617.8 852.3 617.8 840.0 617.5 C 827.7 617.2 843.2 618.6 827.0 617.0 C 810.8 615.4 757.8 608.8 743.0 608.0 C 728.2 607.2 735.2 608.0 738.0 612.0 C 740.8 616.0 751.3 625.3 760.0 632.0 C 768.7 638.7 780.5 645.7 790.0 652.0 C 799.5 658.3 817.0 670.0 817.0 670.0 C 817.0 670.0 811.2 672.5 805.0 670.0 C 798.8 667.5 788.3 660.3 780.0 655.0 C 771.7 649.7 763.8 644.3 755.0 638.0 C 746.2 631.7 734.5 621.7 727.0 617.0 C 719.5 612.3 717.0 610.0 710.0 610.0 C 703.0 610.0 692.5 614.2 685.0 617.0 C 677.5 619.8 670.8 623.2 665.0 627.0 C 659.2 630.8 655.3 637.8 650.0 640.0 C 644.7 642.2 639.3 639.2 633.0 640.0 C 626.7 640.8 619.2 644.8 612.0 645.0 C 604.8 645.2 596.2 643.5 590.0 641.0 C 583.8 638.5 579.2 633.2 575.0 630.0 C 570.8 626.8 572.5 622.7 565.0 622.0 C 557.5 621.3 539.2 625.0 530.0 626.0 C 520.8 627.0 515.0 629.3 510.0 628.0 C 505.0 626.7 493.3 620.7 500.0 618.0 C 506.7 615.3 535.8 615.0 550.0 612.0 C 564.2 609.0 582.5 603.3 585.0 600.0 C 587.5 596.7 565.0 595.0 565.0 592.0 Z" fill="#32a048"/>
<path d="M 397.0 616.0 C 397.0 616.0 420.3 608.8 430.0 606.0 C 439.7 603.2 446.7 600.5 455.0 599.0 C 463.3 597.5 473.1 598.8 480.0 596.7 C 486.9 594.7 491.1 590.0 496.7 586.7 C 502.2 583.4 508.3 579.2 513.3 576.7 C 518.3 574.2 521.1 572.3 526.7 571.7 C 532.3 571.1 540.6 572.5 546.7 573.3 C 552.8 574.1 557.8 575.0 563.3 576.7 C 568.8 578.4 575.5 581.4 580.0 583.3 C 584.5 585.2 590.0 586.7 590.0 588.0 C 590.0 589.3 584.5 590.1 580.0 591.0 C 575.5 591.9 571.6 591.8 563.3 593.3 C 555.0 594.8 541.1 598.0 530.0 600.0 C 518.9 602.0 505.0 603.9 496.7 605.0 C 488.4 606.1 486.9 605.7 480.0 606.7 C 473.1 607.7 465.0 609.6 455.0 611.0 C 445.0 612.4 429.7 614.2 420.0 615.0 C 410.3 615.8 397.0 616.0 397.0 616.0 Z" fill="#1a6034"/>
<path d="M 513.3 611.7 C 513.3 611.7 523.0 608.9 530.0 608.3 C 537.0 607.7 548.0 607.5 555.0 608.3 C 562.0 609.1 570.9 610.8 571.7 613.3 C 572.5 615.8 567.0 620.8 560.0 623.3 C 553.0 625.8 537.2 627.7 530.0 628.3 C 522.8 628.9 519.5 629.5 516.7 626.7 C 513.9 623.9 513.3 611.7 513.3 611.7 Z" fill="#1a6034"/>
<path d="M 613.3 550.0 C 613.3 550.0 621.2 555.3 625.0 558.0 C 628.8 560.7 632.4 561.5 636.0 566.0 C 639.6 570.5 646.7 581.3 646.7 585.0 C 646.7 588.7 639.8 589.2 636.0 588.0 C 632.2 586.8 627.0 581.8 624.0 578.0 C 621.0 574.2 619.8 569.7 618.0 565.0 C 616.2 560.3 613.3 550.0 613.3 550.0 Z" fill="#1a6034"/>
<path d="M 640.0 545.0 C 641.3 542.2 647.5 544.7 650.0 548.0 C 652.5 551.3 654.7 558.8 655.0 565.0 C 655.3 571.2 653.8 581.8 652.0 585.0 C 650.2 588.2 645.7 587.3 644.0 584.0 C 642.3 580.7 642.7 571.5 642.0 565.0 C 641.3 558.5 638.7 547.8 640.0 545.0 Z" fill="#1a6034"/>
<path d="M 601.1 599.2 C 605.4 595.9 619.5 593.1 625.6 593.1 C 631.7 593.1 635.8 594.6 637.8 599.2 C 639.8 603.8 639.3 614.5 637.8 620.6 C 636.3 626.7 634.7 632.5 628.6 635.8 C 622.5 639.1 607.5 640.4 601.1 640.4 C 594.7 640.4 590.9 638.6 590.4 635.8 C 589.9 633.0 596.5 627.4 598.1 623.6 C 599.7 619.8 599.5 617.0 600.0 612.9 C 600.5 608.8 596.8 602.5 601.1 599.2 Z" fill="#1a6034"/>
<path d="M 637.8 596.1 C 647.0 589.5 681.1 595.1 692.8 596.1 C 704.5 597.1 708.0 599.7 708.0 602.2 C 708.0 604.8 699.1 608.3 692.8 611.4 C 686.4 614.5 676.3 617.0 669.9 620.6 C 663.5 624.2 660.0 630.3 654.6 632.8 C 649.2 635.3 640.6 641.9 637.8 635.8 C 635.0 629.7 628.6 602.7 637.8 596.1 Z" fill="#1a6034"/>
<path d="M 578.0 597.0 C 578.8 595.2 586.2 594.6 590.0 594.6 C 593.8 594.6 599.7 595.4 601.0 597.0 C 602.3 598.6 600.7 602.6 598.0 604.0 C 595.3 605.4 588.3 606.5 585.0 605.3 C 581.7 604.1 577.2 598.8 578.0 597.0 Z" fill="#1a6034"/>
<path d="M 663.3 594.0 C 670.8 591.7 687.2 594.8 696.7 596.0 C 706.2 597.2 716.1 598.2 720.0 601.0 C 723.9 603.8 723.3 610.3 720.0 613.0 C 716.7 615.7 706.7 615.7 700.0 617.0 C 693.3 618.3 685.8 619.3 680.0 621.0 C 674.2 622.7 669.7 625.2 665.0 627.0 C 660.3 628.8 654.2 634.8 652.0 632.0 C 649.8 629.2 650.1 616.3 652.0 610.0 C 653.9 603.7 655.8 596.3 663.3 594.0 Z" fill="#1a6034"/>
<path d="M 680.0 583.3 C 679.5 580.0 690.0 575.0 696.7 570.0 C 703.4 565.0 713.1 559.5 720.0 553.3 C 726.9 547.1 733.5 537.7 738.0 533.0 C 742.5 528.3 743.0 526.8 746.7 525.0 C 750.4 523.2 752.8 522.9 760.0 522.0 C 767.2 521.1 782.5 520.1 790.0 519.5 C 797.5 518.9 802.0 518.2 805.0 518.5 C 808.0 518.8 808.0 521.5 808.0 521.5 C 808.0 521.5 782.5 528.1 777.0 531.7 C 771.5 535.3 777.0 538.6 775.0 543.3 C 773.0 548.0 769.2 554.4 765.0 560.0 C 760.8 565.6 748.0 573.1 750.0 577.0 C 752.0 580.9 768.7 584.8 777.0 583.3 C 785.3 581.8 793.1 572.4 800.0 568.0 C 806.9 563.6 812.2 559.2 818.3 556.7 C 824.4 554.2 836.4 551.1 836.7 553.3 C 837.0 555.5 825.3 565.0 820.0 570.0 C 814.7 575.0 803.9 580.0 805.0 583.3 C 806.1 586.6 817.5 587.5 826.7 590.0 C 835.9 592.5 851.5 595.3 860.0 598.0 C 868.5 600.7 869.8 603.9 878.0 606.0 C 886.2 608.1 897.5 609.8 909.0 610.4 C 920.5 611.0 934.3 610.2 947.0 609.7 C 959.7 609.2 973.5 607.0 985.0 607.4 C 996.5 607.8 1012.2 610.7 1016.0 612.0 C 1019.8 613.3 1017.0 614.6 1008.0 615.0 C 999.0 615.4 979.8 614.6 962.0 614.2 C 944.2 613.8 918.0 613.2 901.0 612.7 C 884.0 612.2 872.4 610.9 860.0 611.0 C 847.6 611.1 838.4 614.1 826.7 613.3 C 815.0 612.5 803.9 608.2 790.0 606.0 C 776.1 603.8 755.0 602.3 743.3 600.0 C 731.6 597.7 727.2 593.7 720.0 592.0 C 712.8 590.3 706.7 591.5 700.0 590.0 C 693.3 588.5 680.5 586.6 680.0 583.3 Z" fill="#1a6034"/></g>
<defs><clipPath id="catclip"><path d="M 882.6 556.9 C 881.0 552.4 883.4 548.8 885.6 545.3 C 887.7 541.7 891.4 538.1 895.3 535.6 C 899.2 533.0 904.0 530.8 908.9 529.7 C 913.7 528.7 918.6 528.0 924.4 529.3 C 930.3 530.6 937.7 534.2 943.9 537.5 C 950.0 540.8 954.9 545.0 961.4 549.2 C 967.9 553.4 975.3 558.9 982.8 562.8 C 990.2 566.7 997.4 569.6 1006.1 572.5 C 1014.9 575.4 1025.6 578.3 1035.3 580.3 C 1045.0 582.2 1053.7 582.9 1064.4 584.2 C 1075.1 585.4 1091.3 587.7 1099.4 587.7 C 1107.5 587.7 1113.0 584.2 1113.0 584.2 C 1113.0 584.2 1137.4 571.5 1137.4 571.5 C 1137.4 571.5 1119.2 583.4 1115.0 587.1 C 1110.8 590.8 1111.8 589.5 1112.1 593.9 C 1112.4 598.3 1115.6 607.8 1116.9 613.3 C 1118.2 618.8 1120.8 623.1 1119.9 626.9 C 1118.9 630.8 1111.1 636.7 1111.1 636.7 C 1111.1 636.7 1099.8 631.5 1093.6 628.9 C 1087.4 626.3 1074.2 621.1 1074.2 621.1 C 1074.2 621.1 1056.7 626.9 1056.7 626.9 C 1056.7 626.9 1045.0 613.3 1045.0 613.3 C 1045.0 613.3 1025.6 619.2 1025.6 619.2 C 1025.6 619.2 1010.0 605.6 1010.0 605.6 C 1010.0 605.6 990.6 609.4 990.6 609.4 C 990.6 609.4 983.4 599.7 978.9 597.8 C 974.3 595.8 963.3 597.8 963.3 597.8 C 963.3 597.8 960.7 589.7 957.5 586.1 C 954.3 582.5 948.7 579.6 943.9 576.4 C 939.0 573.1 932.5 567.6 928.3 566.7 C 924.1 565.7 918.6 570.6 918.6 570.6 C 918.6 570.6 903.1 570.2 899.2 570.6 C 895.3 570.9 895.3 572.5 895.3 572.5 C 895.3 572.5 884.3 561.5 882.6 556.9 Z"/></clipPath></defs>
<path d="M 882.6 556.9 C 881.0 552.4 883.4 548.8 885.6 545.3 C 887.7 541.7 891.4 538.1 895.3 535.6 C 899.2 533.0 904.0 530.8 908.9 529.7 C 913.7 528.7 918.6 528.0 924.4 529.3 C 930.3 530.6 937.7 534.2 943.9 537.5 C 950.0 540.8 954.9 545.0 961.4 549.2 C 967.9 553.4 975.3 558.9 982.8 562.8 C 990.2 566.7 997.4 569.6 1006.1 572.5 C 1014.9 575.4 1025.6 578.3 1035.3 580.3 C 1045.0 582.2 1053.7 582.9 1064.4 584.2 C 1075.1 585.4 1091.3 587.7 1099.4 587.7 C 1107.5 587.7 1113.0 584.2 1113.0 584.2 C 1113.0 584.2 1137.4 571.5 1137.4 571.5 C 1137.4 571.5 1119.2 583.4 1115.0 587.1 C 1110.8 590.8 1111.8 589.5 1112.1 593.9 C 1112.4 598.3 1115.6 607.8 1116.9 613.3 C 1118.2 618.8 1120.8 623.1 1119.9 626.9 C 1118.9 630.8 1111.1 636.7 1111.1 636.7 C 1111.1 636.7 1099.8 631.5 1093.6 628.9 C 1087.4 626.3 1074.2 621.1 1074.2 621.1 C 1074.2 621.1 1056.7 626.9 1056.7 626.9 C 1056.7 626.9 1045.0 613.3 1045.0 613.3 C 1045.0 613.3 1025.6 619.2 1025.6 619.2 C 1025.6 619.2 1010.0 605.6 1010.0 605.6 C 1010.0 605.6 990.6 609.4 990.6 609.4 C 990.6 609.4 983.4 599.7 978.9 597.8 C 974.3 595.8 963.3 597.8 963.3 597.8 C 963.3 597.8 960.7 589.7 957.5 586.1 C 954.3 582.5 948.7 579.6 943.9 576.4 C 939.0 573.1 932.5 567.6 928.3 566.7 C 924.1 565.7 918.6 570.6 918.6 570.6 C 918.6 570.6 903.1 570.2 899.2 570.6 C 895.3 570.9 895.3 572.5 895.3 572.5 C 895.3 572.5 884.3 561.5 882.6 556.9 Z" fill="#85a83d"/>
<path d="M 928.3 566.7 C 927.7 568.0 939.0 573.1 943.9 576.4 C 948.7 579.6 954.3 582.5 957.5 586.1 C 960.7 589.7 963.3 597.8 963.3 597.8 C 963.3 597.8 974.3 595.8 978.9 597.8 C 983.4 599.7 990.6 609.4 990.6 609.4 C 990.6 609.4 1010.0 605.6 1010.0 605.6 C 1010.0 605.6 1025.6 619.2 1025.6 619.2 C 1025.6 619.2 1045.0 613.3 1045.0 613.3 C 1045.0 613.3 1056.7 626.9 1056.7 626.9 C 1056.7 626.9 1074.2 621.1 1074.2 621.1 C 1074.2 621.1 1087.4 626.3 1093.6 628.9 C 1099.8 631.5 1111.1 636.7 1111.1 636.7 C 1111.1 636.7 1118.9 630.8 1119.9 626.9 C 1120.8 623.1 1119.7 615.9 1116.9 613.3 C 1114.2 610.7 1108.2 611.4 1103.3 611.4 C 1098.5 611.4 1092.6 613.3 1087.8 613.3 C 1082.9 613.3 1078.7 611.4 1074.2 611.4 C 1069.6 611.4 1065.4 614.6 1060.6 613.3 C 1055.7 612.0 1050.2 604.9 1045.0 603.6 C 1039.8 602.3 1034.6 606.5 1029.4 605.6 C 1024.3 604.6 1019.7 599.4 1013.9 597.8 C 1008.1 596.2 1000.3 598.1 994.4 595.8 C 988.6 593.6 984.1 587.1 978.9 584.2 C 973.7 581.2 968.5 580.9 963.3 578.3 C 958.1 575.7 953.6 570.6 947.8 568.6 C 941.9 566.7 929.0 565.4 928.3 566.7 Z" fill="#729834"/>
<path d="M 882.6 556.9 C 881.0 553.1 883.8 550.8 885.6 549.2 C 887.3 547.5 890.4 546.9 893.3 547.2 C 896.2 547.5 899.5 549.2 903.1 551.1 C 906.6 553.1 910.5 556.3 914.7 558.9 C 918.9 561.5 927.7 564.7 928.3 566.7 C 929.0 568.6 918.6 570.6 918.6 570.6 C 918.6 570.6 903.1 570.2 899.2 570.6 C 895.3 570.9 895.3 572.5 895.3 572.5 C 895.3 572.5 884.3 560.8 882.6 556.9 Z" fill="#5e7c2a"/>
<path d="M 883.6 555.0 C 883.6 553.2 886.5 550.1 888.5 549.2 C 890.4 548.2 893.5 548.4 895.3 549.2 C 897.1 550.0 899.2 552.4 899.2 554.0 C 899.2 555.6 897.1 557.9 895.3 558.9 C 893.5 559.9 890.4 560.5 888.5 559.9 C 886.5 559.2 883.6 556.8 883.6 555.0 Z" fill="#4a6420"/>
<path d="M 908.9 531.7 C 911.2 530.6 918.6 530.0 924.4 531.3 C 930.3 532.6 937.7 536.1 943.9 539.4 C 950.0 542.7 954.9 546.9 961.4 551.1 C 967.9 555.3 975.3 560.8 982.8 564.7 C 990.2 568.6 997.4 571.6 1006.1 574.4 C 1014.9 577.3 1025.6 580.0 1035.3 581.8 C 1045.0 583.7 1054.7 584.5 1064.4 585.7 C 1074.2 586.9 1093.6 588.3 1093.6 589.0 C 1093.6 589.7 1074.2 590.2 1064.4 590.0 C 1054.7 589.8 1045.0 589.3 1035.3 588.1 C 1025.6 586.8 1014.9 584.5 1006.1 582.2 C 997.4 580.0 990.2 577.7 982.8 574.4 C 975.3 571.2 967.9 566.7 961.4 562.8 C 954.9 558.9 949.7 554.7 943.9 551.1 C 938.1 547.5 931.9 543.7 926.4 541.4 C 920.9 539.1 913.7 539.1 910.8 537.5 C 907.9 535.9 906.6 532.7 908.9 531.7 Z" fill="#8fb244"/>
<g clip-path="url(#catclip)"><ellipse cx="966.3" cy="592.6" rx="4.2" ry="1.4" fill="#6e9230" opacity="0.8" transform="rotate(14 966.3 592.6)"/><ellipse cx="931.7" cy="550.2" rx="2.3" ry="1.1" fill="#789c36" opacity="0.8" transform="rotate(31 931.7 550.2)"/><ellipse cx="1012.8" cy="615.8" rx="2.7" ry="1.8" fill="#789c36" opacity="0.8" transform="rotate(-31 1012.8 615.8)"/><ellipse cx="1045.8" cy="618.4" rx="2.7" ry="0.8" fill="#93b848" opacity="0.8" transform="rotate(39 1045.8 618.4)"/><ellipse cx="931.4" cy="609.6" rx="1.6" ry="1.7" fill="#93b848" opacity="0.8" transform="rotate(45 931.4 609.6)"/><ellipse cx="1092.0" cy="586.9" rx="3.6" ry="1.9" fill="#789c36" opacity="0.8" transform="rotate(-10 1092.0 586.9)"/><ellipse cx="1064.4" cy="595.2" rx="4.1" ry="0.9" fill="#a6c85a" opacity="0.8" transform="rotate(-43 1064.4 595.2)"/><ellipse cx="1017.7" cy="569.7" rx="3.8" ry="1.8" fill="#789c36" opacity="0.8" transform="rotate(-7 1017.7 569.7)"/><ellipse cx="1020.2" cy="579.9" rx="3.1" ry="1.3" fill="#6e9230" opacity="0.8" transform="rotate(-31 1020.2 579.9)"/><ellipse cx="1099.7" cy="603.5" rx="4.1" ry="2.0" fill="#9cc04e" opacity="0.8" transform="rotate(25 1099.7 603.5)"/><ellipse cx="1057.9" cy="604.9" rx="4.4" ry="1.9" fill="#6e9230" opacity="0.8" transform="rotate(12 1057.9 604.9)"/><ellipse cx="939.5" cy="601.4" rx="2.3" ry="0.9" fill="#93b848" opacity="0.8" transform="rotate(1 939.5 601.4)"/><ellipse cx="1089.6" cy="628.1" rx="2.5" ry="0.9" fill="#9cc04e" opacity="0.8" transform="rotate(54 1089.6 628.1)"/><ellipse cx="948.8" cy="572.6" rx="4.1" ry="0.9" fill="#789c36" opacity="0.8" transform="rotate(18 948.8 572.6)"/><ellipse cx="1071.1" cy="579.3" rx="2.5" ry="1.9" fill="#93b848" opacity="0.8" transform="rotate(-25 1071.1 579.3)"/><ellipse cx="1019.8" cy="628.8" rx="1.5" ry="0.9" fill="#6e9230" opacity="0.8" transform="rotate(8 1019.8 628.8)"/><ellipse cx="924.9" cy="564.9" rx="2.4" ry="1.1" fill="#789c36" opacity="0.8" transform="rotate(28 924.9 564.9)"/><ellipse cx="927.1" cy="618.3" rx="2.6" ry="1.0" fill="#6e9230" opacity="0.8" transform="rotate(50 927.1 618.3)"/><ellipse cx="994.3" cy="585.9" rx="2.7" ry="1.8" fill="#93b848" opacity="0.8" transform="rotate(27 994.3 585.9)"/><ellipse cx="1030.6" cy="598.6" rx="2.3" ry="1.6" fill="#93b848" opacity="0.8" transform="rotate(31 1030.6 598.6)"/><ellipse cx="966.2" cy="573.2" rx="3.1" ry="1.5" fill="#6e9230" opacity="0.8" transform="rotate(-59 966.2 573.2)"/><ellipse cx="1076.5" cy="627.9" rx="1.6" ry="1.5" fill="#6e9230" opacity="0.8" transform="rotate(20 1076.5 627.9)"/><ellipse cx="945.3" cy="599.7" rx="2.9" ry="1.6" fill="#6e9230" opacity="0.8" transform="rotate(-15 945.3 599.7)"/><ellipse cx="1040.5" cy="571.4" rx="1.6" ry="0.9" fill="#789c36" opacity="0.8" transform="rotate(26 1040.5 571.4)"/><ellipse cx="922.9" cy="578.6" rx="2.4" ry="1.5" fill="#789c36" opacity="0.8" transform="rotate(-38 922.9 578.6)"/><ellipse cx="991.5" cy="574.1" rx="4.0" ry="1.1" fill="#6e9230" opacity="0.8" transform="rotate(40 991.5 574.1)"/><ellipse cx="994.1" cy="610.7" rx="4.4" ry="1.6" fill="#9cc04e" opacity="0.8" transform="rotate(-44 994.1 610.7)"/><ellipse cx="980.7" cy="566.9" rx="2.2" ry="1.0" fill="#6e9230" opacity="0.8" transform="rotate(-5 980.7 566.9)"/><ellipse cx="1048.7" cy="556.9" rx="2.5" ry="1.2" fill="#93b848" opacity="0.8" transform="rotate(46 1048.7 556.9)"/><ellipse cx="963.6" cy="613.7" rx="1.7" ry="1.7" fill="#a6c85a" opacity="0.8" transform="rotate(-33 963.6 613.7)"/><ellipse cx="1095.8" cy="585.1" rx="3.9" ry="0.8" fill="#a6c85a" opacity="0.8" transform="rotate(-36 1095.8 585.1)"/><ellipse cx="981.7" cy="615.8" rx="2.1" ry="1.1" fill="#93b848" opacity="0.8" transform="rotate(43 981.7 615.8)"/><ellipse cx="1084.4" cy="556.0" rx="2.5" ry="1.0" fill="#93b848" opacity="0.8" transform="rotate(-23 1084.4 556.0)"/><ellipse cx="1022.4" cy="616.9" rx="2.5" ry="1.3" fill="#789c36" opacity="0.8" transform="rotate(-7 1022.4 616.9)"/><ellipse cx="1032.4" cy="552.0" rx="2.0" ry="0.8" fill="#789c36" opacity="0.8" transform="rotate(60 1032.4 552.0)"/><ellipse cx="1085.3" cy="598.8" rx="2.8" ry="1.9" fill="#93b848" opacity="0.8" transform="rotate(58 1085.3 598.8)"/><ellipse cx="1062.3" cy="551.7" rx="4.0" ry="1.6" fill="#789c36" opacity="0.8" transform="rotate(6 1062.3 551.7)"/><ellipse cx="1111.5" cy="592.5" rx="4.1" ry="1.8" fill="#a6c85a" opacity="0.8" transform="rotate(-24 1111.5 592.5)"/><ellipse cx="942.6" cy="568.7" rx="4.2" ry="1.6" fill="#9cc04e" opacity="0.8" transform="rotate(58 942.6 568.7)"/><ellipse cx="958.4" cy="619.6" rx="3.2" ry="0.8" fill="#789c36" opacity="0.8" transform="rotate(35 958.4 619.6)"/><ellipse cx="942.8" cy="589.3" rx="3.5" ry="1.4" fill="#a6c85a" opacity="0.8" transform="rotate(-8 942.8 589.3)"/><ellipse cx="929.3" cy="622.0" rx="2.5" ry="1.1" fill="#9cc04e" opacity="0.8" transform="rotate(50 929.3 622.0)"/><ellipse cx="1027.0" cy="613.9" rx="2.6" ry="1.0" fill="#9cc04e" opacity="0.8" transform="rotate(8 1027.0 613.9)"/><ellipse cx="1096.4" cy="558.7" rx="3.9" ry="1.9" fill="#a6c85a" opacity="0.8" transform="rotate(43 1096.4 558.7)"/><ellipse cx="944.3" cy="622.6" rx="3.4" ry="1.8" fill="#789c36" opacity="0.8" transform="rotate(-54 944.3 622.6)"/><ellipse cx="1070.1" cy="569.0" rx="3.1" ry="1.3" fill="#93b848" opacity="0.8" transform="rotate(0 1070.1 569.0)"/><ellipse cx="983.3" cy="614.5" rx="3.8" ry="0.9" fill="#9cc04e" opacity="0.8" transform="rotate(-54 983.3 614.5)"/><ellipse cx="932.3" cy="626.9" rx="3.0" ry="1.4" fill="#9cc04e" opacity="0.8" transform="rotate(-40 932.3 626.9)"/><ellipse cx="981.6" cy="577.2" rx="3.3" ry="1.2" fill="#789c36" opacity="0.8" transform="rotate(-36 981.6 577.2)"/><ellipse cx="1116.5" cy="583.3" rx="3.2" ry="1.7" fill="#a6c85a" opacity="0.8" transform="rotate(-12 1116.5 583.3)"/><ellipse cx="1077.9" cy="594.3" rx="2.6" ry="1.5" fill="#9cc04e" opacity="0.8" transform="rotate(40 1077.9 594.3)"/><ellipse cx="1027.0" cy="599.9" rx="3.4" ry="1.3" fill="#9cc04e" opacity="0.8" transform="rotate(-13 1027.0 599.9)"/><ellipse cx="1044.3" cy="609.8" rx="2.8" ry="1.6" fill="#6e9230" opacity="0.8" transform="rotate(-2 1044.3 609.8)"/><ellipse cx="922.2" cy="566.6" rx="3.6" ry="0.9" fill="#6e9230" opacity="0.8" transform="rotate(-6 922.2 566.6)"/><ellipse cx="963.6" cy="559.6" rx="4.3" ry="1.2" fill="#9cc04e" opacity="0.8" transform="rotate(54 963.6 559.6)"/><ellipse cx="1030.6" cy="618.6" rx="2.9" ry="0.9" fill="#9cc04e" opacity="0.8" transform="rotate(44 1030.6 618.6)"/><ellipse cx="1065.1" cy="616.9" rx="3.9" ry="1.6" fill="#93b848" opacity="0.8" transform="rotate(33 1065.1 616.9)"/><ellipse cx="982.4" cy="591.6" rx="3.6" ry="1.4" fill="#93b848" opacity="0.8" transform="rotate(-30 982.4 591.6)"/><ellipse cx="1073.7" cy="552.7" rx="3.2" ry="1.6" fill="#9cc04e" opacity="0.8" transform="rotate(-12 1073.7 552.7)"/><ellipse cx="954.5" cy="551.0" rx="1.6" ry="0.9" fill="#9cc04e" opacity="0.8" transform="rotate(1 954.5 551.0)"/><ellipse cx="1086.1" cy="625.1" rx="2.4" ry="0.9" fill="#93b848" opacity="0.8" transform="rotate(38 1086.1 625.1)"/><ellipse cx="1031.5" cy="591.3" rx="1.8" ry="1.7" fill="#a6c85a" opacity="0.8" transform="rotate(59 1031.5 591.3)"/><ellipse cx="1029.4" cy="593.0" rx="2.0" ry="0.9" fill="#93b848" opacity="0.8" transform="rotate(-37 1029.4 593.0)"/><ellipse cx="1048.0" cy="585.4" rx="2.3" ry="1.5" fill="#789c36" opacity="0.8" transform="rotate(60 1048.0 585.4)"/><ellipse cx="988.8" cy="582.5" rx="2.6" ry="1.1" fill="#9cc04e" opacity="0.8" transform="rotate(58 988.8 582.5)"/><ellipse cx="1001.3" cy="608.7" rx="2.7" ry="1.5" fill="#a6c85a" opacity="0.8" transform="rotate(14 1001.3 608.7)"/><ellipse cx="1053.6" cy="590.4" rx="2.0" ry="1.3" fill="#789c36" opacity="0.8" transform="rotate(53 1053.6 590.4)"/><ellipse cx="948.5" cy="556.8" rx="4.2" ry="1.4" fill="#789c36" opacity="0.8" transform="rotate(-4 948.5 556.8)"/><ellipse cx="1036.1" cy="617.6" rx="2.3" ry="1.0" fill="#a6c85a" opacity="0.8" transform="rotate(14 1036.1 617.6)"/><ellipse cx="1021.9" cy="623.7" rx="4.4" ry="1.2" fill="#93b848" opacity="0.8" transform="rotate(30 1021.9 623.7)"/></g>
<line x1="932.2" y1="539.4" x2="941.9" y2="538.5" stroke="#d2e2a8" stroke-width="2.2" stroke-linecap="round"/>
<line x1="949.7" y1="551.1" x2="959.4" y2="549.6" stroke="#d2e2a8" stroke-width="2.2" stroke-linecap="round"/>
<line x1="967.2" y1="566.7" x2="980.8" y2="564.3" stroke="#d2e2a8" stroke-width="2.2" stroke-linecap="round"/>
<line x1="992.5" y1="578.3" x2="1004.2" y2="575.4" stroke="#d2e2a8" stroke-width="2.2" stroke-linecap="round"/>
<line x1="1019.7" y1="587.1" x2="1037.2" y2="582.2" stroke="#d2e2a8" stroke-width="2.2" stroke-linecap="round"/>
<line x1="1045.0" y1="595.8" x2="1064.4" y2="587.1" stroke="#d2e2a8" stroke-width="2.2" stroke-linecap="round"/>
<line x1="1078.0" y1="598.7" x2="1093.6" y2="592.3" stroke="#d2e2a8" stroke-width="2.2" stroke-linecap="round"/>
<line x1="1101.4" y1="589.6" x2="1113.0" y2="585.1" stroke="#d2e2a8" stroke-width="2.2" stroke-linecap="round"/>
<circle cx="934.2" cy="542.9" r="1.9" fill="#1e2a10"/>
<circle cx="951.7" cy="553.4" r="1.9" fill="#1e2a10"/>
<circle cx="971.1" cy="569.6" r="1.9" fill="#1e2a10"/>
<circle cx="995.4" cy="582.2" r="1.9" fill="#1e2a10"/>
<circle cx="1022.1" cy="589.6" r="1.9" fill="#1e2a10"/>
<circle cx="1051.2" cy="595.4" r="1.9" fill="#1e2a10"/>
<circle cx="1081.5" cy="600.7" r="1.9" fill="#1e2a10"/>
<circle cx="1102.9" cy="604.0" r="1.9" fill="#1e2a10"/>
<path d="M 1113.0 584.2 C 1113.0 584.2 1118.7 578.6 1122.8 576.4 C 1126.8 574.2 1137.4 570.9 1137.4 570.9 C 1137.4 570.9 1128.4 575.6 1124.7 578.3 C 1121.1 581.0 1115.4 587.1 1115.4 587.1 C 1115.4 587.1 1113.0 584.2 1113.0 584.2 Z" fill="#7a7a3a"/>
<!-- zoom lines -->
<line x1="601.5" y1="606.6" x2="544" y2="889.5" stroke="#111" stroke-width="2"/>
<line x1="633.1" y1="601.8" x2="772.3" y2="854.7" stroke="#111" stroke-width="2"/>
<circle cx="618.2" cy="610" r="17" fill="none" stroke="#111" stroke-width="2.5"/>
<defs>
<linearGradient id="a_or" x1="0" y1="1" x2="1" y2="0"><stop offset="0" stop-color="#e06a1c"/><stop offset="0.5" stop-color="#e89a2a"/><stop offset="0.8" stop-color="#9a7a28"/><stop offset="1" stop-color="#e0d830"/></linearGradient>
<linearGradient id="a_gs" x1="0" y1="0" x2="0" y2="1"><stop offset="0" stop-color="#a0c830"/><stop offset="0.3" stop-color="#6cb032"/><stop offset="1" stop-color="#3c9e2e"/></linearGradient>
<linearGradient id="a_os" x1="0" y1="0" x2="0" y2="1"><stop offset="0" stop-color="#f39024"/><stop offset="1" stop-color="#e8641a"/></linearGradient>
<linearGradient id="a_rs" x1="0" y1="0" x2="0" y2="1"><stop offset="0" stop-color="#f07a22"/><stop offset="1" stop-color="#e0301a"/></linearGradient>
</defs>
<g transform="translate(130,510) scale(0.20894)" fill="none" stroke-linecap="round" stroke-linejoin="round">
<path d="M 280.0 990.0 C 288.3 991.7 310.0 995.0 330.0 1000.0 C 350.0 1005.0 376.7 1013.3 400.0 1020.0 C 423.3 1026.7 446.7 1036.7 470.0 1040.0 C 493.3 1043.3 515.0 1041.7 540.0 1040.0 C 565.0 1038.3 595.0 1038.3 620.0 1030.0 C 645.0 1021.7 671.7 1006.7 690.0 990.0 C 708.3 973.3 720.8 950.0 730.0 930.0 C 739.2 910.0 743.3 888.3 745.0 870.0 C 746.7 851.7 740.8 828.3 740.0 820.0" stroke="#2b3c9e" stroke-width="23"/>
<path d="M 370.0 660.0 C 373.3 668.3 380.0 695.0 390.0 710.0 C 400.0 725.0 415.0 739.2 430.0 750.0 C 445.0 760.8 460.0 769.2 480.0 775.0 C 500.0 780.8 531.7 784.2 550.0 785.0 C 568.3 785.8 583.3 780.8 590.0 780.0" stroke="#2a58b4" stroke-width="23"/>
<path d="M 265.0 185.0 C 269.2 189.2 285.8 199.2 290.0 210.0 C 294.2 220.8 295.0 239.2 290.0 250.0 C 285.0 260.8 275.0 268.3 260.0 275.0 C 245.0 281.7 223.3 286.7 200.0 290.0 C 176.7 293.3 143.3 290.0 120.0 295.0 C 96.7 300.0 70.0 315.8 60.0 320.0" stroke="#2aa8a0" stroke-width="23"/>
<path d="M 60.0 320.0 C 55.8 328.3 36.7 351.7 35.0 370.0 C 33.3 388.3 39.2 410.0 50.0 430.0 C 60.8 450.0 80.0 473.3 100.0 490.0 C 120.0 506.7 150.0 518.3 170.0 530.0 C 190.0 541.7 208.3 545.0 220.0 560.0 C 231.7 575.0 236.7 610.0 240.0 620.0" stroke="#38aa78" stroke-width="23"/>
<path d="M 240.0 620.0 C 240.8 633.3 242.5 673.3 245.0 700.0 C 247.5 726.7 247.5 756.7 255.0 780.0 C 262.5 803.3 279.2 823.3 290.0 840.0 C 300.8 856.7 313.3 866.7 320.0 880.0 C 326.7 893.3 333.3 906.7 330.0 920.0 C 326.7 933.3 311.7 946.7 300.0 960.0 C 288.3 973.3 270.0 983.3 260.0 1000.0 C 250.0 1016.7 241.7 1041.7 240.0 1060.0 C 238.3 1078.3 241.7 1095.0 250.0 1110.0 C 258.3 1125.0 273.3 1140.0 290.0 1150.0 C 306.7 1160.0 328.3 1165.0 350.0 1170.0 C 371.7 1175.0 403.3 1180.0 420.0 1180.0 C 436.7 1180.0 448.3 1178.3 450.0 1170.0 C 451.7 1161.7 431.7 1143.3 430.0 1130.0 C 428.3 1116.7 428.3 1103.3 440.0 1090.0 C 451.7 1076.7 478.3 1061.7 500.0 1050.0 C 521.7 1038.3 551.7 1030.0 570.0 1020.0 C 588.3 1010.0 603.3 995.0 610.0 990.0" stroke="#48ac4a" stroke-width="23"/>
<path d="M 290.0 250.0 C 293.3 261.7 301.7 295.0 310.0 320.0 C 318.3 345.0 331.7 373.3 340.0 400.0 C 348.3 426.7 355.8 453.3 360.0 480.0 C 364.2 506.7 365.0 535.0 365.0 560.0 C 365.0 585.0 361.7 615.0 360.0 630.0 C 358.3 645.0 355.8 646.7 355.0 650.0" stroke="#2aaed0" stroke-width="23"/>
<path d="M 355.0 650.0 C 359.2 652.5 370.8 660.0 380.0 665.0 C 389.2 670.0 401.7 675.8 410.0 680.0 C 418.3 684.2 426.7 688.3 430.0 690.0" stroke="#2a90d8" stroke-width="23"/>
<path d="M 570.0 470.0 C 568.3 465.0 568.3 451.7 560.0 440.0 C 551.7 428.3 530.8 415.0 520.0 400.0 C 509.2 385.0 500.0 370.0 495.0 350.0 C 490.0 330.0 487.5 303.3 490.0 280.0 C 492.5 256.7 498.3 230.0 510.0 210.0 C 521.7 190.0 541.7 170.0 560.0 160.0 C 578.3 150.0 596.7 148.3 620.0 150.0 C 643.3 151.7 676.7 165.0 700.0 170.0 C 723.3 175.0 740.0 186.7 760.0 180.0 C 780.0 173.3 803.3 146.7 820.0 130.0 C 836.7 113.3 850.8 92.5 860.0 80.0 C 869.2 67.5 872.5 59.2 875.0 55.0" stroke="url(#a_or)" stroke-width="21"/>
<path d="M 875.0 55.0 C 875.8 60.8 877.5 74.2 880.0 90.0 C 882.5 105.8 886.7 126.7 890.0 150.0 C 893.3 173.3 900.0 205.0 900.0 230.0 C 900.0 255.0 896.7 278.3 890.0 300.0 C 883.3 321.7 873.3 343.3 860.0 360.0 C 846.7 376.7 826.7 388.3 810.0 400.0 C 793.3 411.7 771.7 420.0 760.0 430.0 C 748.3 440.0 743.3 455.0 740.0 460.0" stroke="#dcd82e" stroke-width="23"/>
<path d="M535 480 L625 455 L652 590 L600 690 L578 620 Z" fill="url(#a_os)" stroke="none"/>
<path d="M690 720 L745 770 L752 920 L692 880 L662 820 Z" fill="url(#a_rs)" stroke="none"/>
<path d="M727 455 L752 458 L742 632 L720 706 L683 904 L655 968 L620 992 L572 985 L559 850 L559 779 L574 706 L610 633 L683 523 Z" fill="url(#a_gs)" stroke="none"/>
<path d="M727 455 L752 458 L742 632 L726 642 L733 520 Z" fill="#c8dc2c" stroke="none"/>
<path d="M 740.0 900.0 C 741.7 915.0 746.7 961.7 750.0 990.0 C 753.3 1018.3 753.3 1048.3 760.0 1070.0 C 766.7 1091.7 773.3 1108.3 790.0 1120.0 C 806.7 1131.7 833.3 1138.3 860.0 1140.0 C 886.7 1141.7 935.0 1131.7 950.0 1130.0" stroke="#d02424" stroke-width="23"/>
<path d="M 430.0 700.0 C 445.0 696.7 501.7 678.3 520.0 680.0 C 538.3 681.7 533.3 700.0 540.0 710.0 C 546.7 720.0 550.0 728.3 560.0 740.0 C 570.0 751.7 593.3 773.3 600.0 780.0" stroke="#e4e030" stroke-width="19"/>
<path d="M320 925 L400 922 L415 950 L440 872 L492 876" stroke="#e4e030" stroke-width="19"/>
<path d="M 492.0 876.0 C 501.7 873.0 540.3 861.0 550.0 858.0" stroke="#c03020" stroke-width="19"/>
<path d="M 250.0 1000.0 C 238.3 1011.7 185.0 1048.3 180.0 1070.0 C 175.0 1091.7 210.0 1119.2 220.0 1130.0 C 230.0 1140.8 236.7 1134.2 240.0 1135.0" stroke="#e4e030" stroke-width="19"/>
</g>
<!-- arrows -->
<path d="M 461.6 129.2 C 302.7 180.8, 241.4 287.2, 213 438" fill="none" stroke="#3a4fa3" stroke-width="2.4"/>
<path d="M 206 430 L 213 444 L 221 430 L 213 434 Z" fill="#3a4fa3"/>
<line x1="285" y1="740" x2="482" y2="1034" stroke="#3a4fa3" stroke-width="2.4"/>
<path d="M 473 1033 L 486 1041 L 485 1025 L 481 1032 Z" fill="#3a4fa3"/>
<line x1="740" y1="455" x2="740" y2="232" stroke="#e0502a" stroke-width="2.4"/>
<path d="M 731 239 L 740 223 L 748 239 L 740 236 Z" fill="#e0502a"/>
<path d="M 1098.9 440.2 C 1069.9 324.2, 989.4 152.9, 862 131" fill="none" stroke="#e0502a" stroke-width="2.4"/>
<path d="M 870 125 L 856 130 L 869 141 L 866 133 Z" fill="#e0502a"/>
<path d="M 805.9 922.0 C 837.6 844.5, 861.8 758.4, 842.4 680" fill="none" stroke="#e0502a" stroke-width="2.4"/>
<path d="M 835 688 L 842 674 L 849 688 L 842 685 Z" fill="#e0502a"/>
<line x1="847" y1="1031" x2="1068" y2="718" stroke="#e0502a" stroke-width="2.4"/>
<path d="M 1060 717 L 1073 712 L 1072 727 L 1068 720 Z" fill="#e0502a"/>

<!-- text -->
<text class="b" transform="translate(564.5,85) scale(1,1.035)">Plant</text>
<text class="r" transform="translate(781,81) scale(1,1.04)">Fecundity?</text>
<text class="b" transform="translate(69.5,520.6) scale(1,1.035)">AMP</text>
<text class="b" transform="translate(950,520.2) scale(1,1.035)">Herbivores</text>
<text class="b" transform="translate(529.5,1155) scale(1,1.035)">Bacteria</text>
<text class="r" style="font-size:45px;letter-spacing:-0.5px"><textPath href="#ovp" startOffset="264.8">Overexpression</textPath></text>
<text class="r" style="font-size:45px;letter-spacing:-0.2px"><textPath href="#fitp" startOffset="106.4">Fitness effects?</textPath></text>
<g transform="translate(811.5,431) rotate(-90) scale(1,1.04)" style="font-size:44px"><text class="r" style="font-size:44px" x="0" y="0">Growth</text><text class="r" style="font-size:44px" x="0" y="51">promotion?</text></g>
<text class="r" style="font-size:44px" transform="translate(862,933) rotate(-77.5) scale(1,1.04)">Nutrition?</text>
<text class="r" transform="translate(943,999) rotate(-55.5) scale(1,1.04)">Resistance?</text>
<text class="r" transform="translate(235,790) rotate(57) scale(1,1.04)">in planta activity</text>
</svg>
</body></html>
